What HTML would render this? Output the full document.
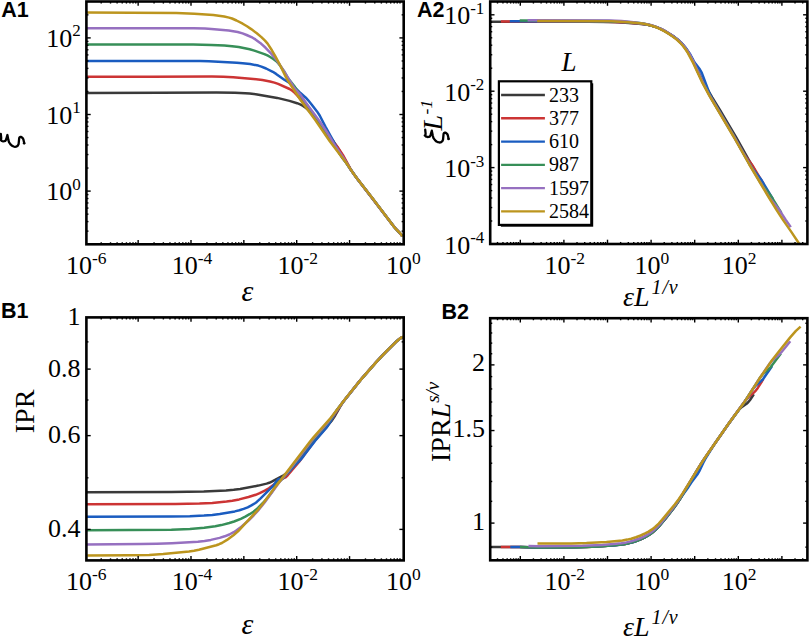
<!DOCTYPE html>
<html><head><meta charset="utf-8"><style>
html,body{margin:0;padding:0;background:#fff;}
body{width:809px;height:636px;overflow:hidden;}
svg{display:block;}
</style></head><body>
<svg width="809" height="636" viewBox="0 0 809 636">
<rect width="809" height="636" fill="#fff"/>
<path d="M86.4,92.9 159.5,92.8 216.5,92.5 234.9,92.8 245.2,93.2 249.7,93.5 257.2,94.4 277.2,97.9 289.5,100.9 297.1,103.2 300.7,104.6 303.1,105.9 306.0,108.0 308.1,109.8 311.0,112.9 315.9,118.8 325.0,131.0 332.7,140.3 338.5,148.9 350.0,168.5 354.5,175.0 393.5,226.1 395.5,228.5 399.6,232.8 402.4,236.3" fill="none" stroke="#3a3a3a" stroke-width="2.50" stroke-linejoin="round"/>
<path d="M86.4,76.7 150.0,76.8 211.9,76.6 223.3,76.8 233.2,77.3 253.4,78.9 262.4,80.1 270.0,81.5 274.4,82.6 278.1,83.9 289.6,89.0 292.2,90.6 293.5,91.7 297.4,95.6 304.0,103.1 312.1,113.2 317.2,120.2 328.9,137.0 331.1,139.8 335.2,144.0 337.2,146.5 343.0,155.2 351.0,169.9 355.5,176.4 393.0,225.4 396.0,229.0 399.0,232.1 402.4,236.3" fill="none" stroke="#cc3434" stroke-width="2.50" stroke-linejoin="round"/>
<path d="M86.4,61.0 200.0,61.0 208.9,61.2 236.8,62.7 242.6,63.2 250.2,64.1 258.3,65.6 261.4,66.6 266.1,68.5 272.8,71.8 276.1,73.9 284.3,79.7 288.8,82.4 291.0,84.0 299.3,91.9 305.8,97.7 308.2,100.3 311.8,104.7 317.0,111.4 319.7,115.5 325.4,126.6 333.0,140.4 338.5,151.7 342.0,157.4 346.0,162.6 352.5,172.2 357.0,178.4 372.0,197.8 392.5,224.8 396.0,229.0 399.5,232.7 402.4,236.3" fill="none" stroke="#1a5cc0" stroke-width="2.50" stroke-linejoin="round"/>
<path d="M86.4,44.4 193.1,44.6 211.4,44.9 224.4,45.5 232.1,46.2 238.7,47.1 249.7,49.3 254.3,50.6 264.4,54.1 267.9,55.7 270.2,57.0 273.3,59.0 276.7,61.6 278.2,63.1 279.8,65.1 284.0,71.2 287.5,77.4 295.0,87.1 304.5,101.4 319.0,121.8 326.5,132.9 340.0,154.3 347.0,164.0 353.5,173.6 358.5,180.4 372.0,197.8 393.5,226.1 395.5,228.5 399.6,232.8 402.4,236.3" fill="none" stroke="#378f58" stroke-width="2.50" stroke-linejoin="round"/>
<path d="M86.4,28.2 193.6,28.3 205.0,28.5 211.4,28.9 228.7,30.6 237.7,32.0 242.5,33.4 246.6,35.0 252.6,37.7 255.4,39.4 260.2,42.9 265.6,47.8 271.2,53.6 276.5,60.0 284.0,71.1 294.2,87.8 295.9,90.0 299.3,93.4 300.6,94.9 305.0,101.5 317.5,118.4 323.5,127.0 327.0,132.2 335.5,146.3 343.0,157.2 350.0,168.5 353.0,172.9 358.5,180.4 372.0,197.8 392.5,224.8 396.0,229.0 399.5,232.7 402.4,236.3" fill="none" stroke="#9670c0" stroke-width="2.50" stroke-linejoin="round"/>
<path d="M86.4,12.6 176.4,13.0 194.4,13.7 213.3,15.0 224.2,16.5 229.1,17.6 232.0,18.5 236.5,20.5 242.7,23.7 247.0,26.3 251.2,29.1 256.8,33.3 261.4,37.1 265.0,40.6 267.6,43.6 271.9,50.3 275.4,56.4 279.2,63.5 285.8,76.9 287.7,80.4 300.9,100.5 315.1,119.8 329.8,141.3 346.1,162.8 352.3,171.9 357.0,178.4 372.3,198.1 393.4,226.0 395.3,228.3 399.5,232.6 402.4,236.3" fill="none" stroke="#bc951e" stroke-width="2.50" stroke-linejoin="round"/>
<path d="M490.2,21.7 588.2,21.8 608.2,22.0 618.2,22.3 636.2,23.4 646.2,24.5 650.2,25.3 656.2,27.1 660.2,28.6 664.2,30.7 672.2,35.6 678.2,40.1 682.2,44.0 686.2,49.0 688.2,51.9 692.2,59.0 702.2,79.7 706.2,87.0 712.2,97.4 720.2,110.4 736.2,137.4 748.2,158.8 754.5,169.6" fill="none" stroke="#3a3a3a" stroke-width="2.50" stroke-linejoin="round"/>
<path d="M500.9,21.5 602.9,21.7 614.9,22.0 628.9,22.7 642.9,23.9 646.9,24.5 650.9,25.5 654.9,26.6 658.9,28.1 662.9,30.0 666.9,32.2 672.9,36.1 678.9,40.9 682.9,45.1 686.9,50.5 688.9,53.6 692.9,61.2 702.9,82.6 710.9,97.5 734.9,137.9 742.9,152.1 746.9,158.1 752.9,166.1 763.7,184.1" fill="none" stroke="#cc3434" stroke-width="2.50" stroke-linejoin="round"/>
<path d="M509.8,21.3 607.8,21.6 621.8,22.1 637.8,23.3 643.8,24.0 647.8,24.7 653.8,26.3 657.8,27.6 663.8,30.4 669.8,34.0 673.8,36.6 679.8,41.3 681.8,43.2 685.8,47.9 689.8,53.7 693.8,61.1 695.8,64.1 699.8,69.3 701.8,72.9 709.8,94.1 711.8,98.4 733.8,135.9 749.8,164.5 751.8,167.7 753.8,170.4 759.8,177.8 761.8,180.6 773.1,199.5" fill="none" stroke="#1a5cc0" stroke-width="2.50" stroke-linejoin="round"/>
<path d="M519.7,20.6 607.7,20.9 621.7,21.4 633.7,22.4 639.7,23.1 645.7,24.1 649.7,25.0 655.7,26.9 659.7,28.4 663.7,30.4 669.7,34.0 673.7,36.7 677.7,39.8 681.7,43.7 683.7,46.1 687.7,51.7 689.7,55.1 693.7,62.8 701.7,80.2 703.7,84.2 711.7,99.0 733.7,136.0 747.7,160.8 759.7,181.2 761.7,184.3 763.7,187.0 769.7,194.3 771.7,197.2 781.4,212.8" fill="none" stroke="#378f58" stroke-width="2.50" stroke-linejoin="round"/>
<path d="M527.6,20.3 609.6,20.6 621.6,21.1 633.6,22.2 645.6,23.9 651.6,25.3 655.6,26.6 661.6,29.1 665.6,31.2 671.6,35.0 675.6,37.9 679.6,41.2 683.6,45.5 687.6,50.9 689.6,54.2 693.6,61.9 703.6,84.1 709.6,95.5 733.6,136.0 749.6,164.3 769.6,197.9 779.6,210.4 785.6,219.7 790.8,227.1" fill="none" stroke="#9670c0" stroke-width="2.50" stroke-linejoin="round"/>
<path d="M537.2,21.0 611.2,21.3 628.2,22.2 642.1,23.6 646.0,24.3 650.9,25.5 655.6,27.0 659.3,28.6 663.8,30.9 668.1,33.4 673.0,36.8 677.0,39.8 679.9,42.5 682.6,45.5 685.6,49.5 687.8,52.8 693.4,63.4 701.8,81.6 709.3,95.7 733.8,137.0 749.0,164.0 767.4,195.0 776.8,210.3 783.3,220.4 791.3,231.9 799.2,243.8" fill="none" stroke="#bc951e" stroke-width="2.50" stroke-linejoin="round"/>
<path d="M86.4,492.3 171.4,492.0 203.8,491.4 226.0,490.4 233.7,489.8 240.1,489.0 258.3,485.6 266.6,483.6 269.2,482.8 271.8,481.6 283.1,475.5 287.0,473.1 288.8,471.7 290.0,470.1 293.5,466.4 302.0,455.9 314.0,440.5 328.0,425.1 331.5,421.0 334.5,416.5 340.5,406.2 344.0,400.7 360.5,380.0 376.0,362.3 382.5,355.4 396.5,341.4 399.1,339.2 402.2,337.1" fill="none" stroke="#3a3a3a" stroke-width="2.50" stroke-linejoin="round"/>
<path d="M86.4,504.3 175.5,503.9 199.5,503.6 212.3,502.9 226.5,501.5 232.3,500.7 239.2,499.4 248.5,497.0 255.7,494.8 259.7,493.2 264.8,490.7 268.9,488.3 274.0,484.5 281.8,479.3 283.8,478.0 285.6,477.3 287.5,475.5 299.0,461.9 314.5,441.0 322.5,431.6 326.5,426.6 331.5,419.6 339.0,407.9 343.0,402.0 360.0,380.6 375.5,362.9 382.5,355.4 396.0,341.9 399.5,338.9 402.2,337.1" fill="none" stroke="#cc3434" stroke-width="2.50" stroke-linejoin="round"/>
<path d="M86.4,516.8 171.4,516.5 189.8,516.2 204.0,515.6 212.3,514.9 219.8,514.0 234.8,511.4 239.4,510.3 243.6,508.9 247.7,507.3 251.4,505.4 255.0,503.2 256.8,501.9 260.1,498.8 273.4,485.6 276.7,481.0 278.0,479.5 278.7,479.1 279.4,479.0 281.4,479.2 282.6,478.7 285.0,475.7 290.0,470.8 294.0,466.1 300.0,460.4 303.5,456.1 315.0,440.9 326.5,427.7 330.0,422.3 335.5,412.3 337.5,409.2 345.0,399.4 360.0,380.6 375.5,362.9 382.0,355.9 395.5,342.3 399.0,339.3 402.2,337.1" fill="none" stroke="#1a5cc0" stroke-width="2.50" stroke-linejoin="round"/>
<path d="M86.4,530.3 171.4,529.7 189.9,528.9 204.2,527.8 215.3,526.3 221.3,525.1 229.3,523.0 234.1,521.5 240.8,518.8 245.3,516.6 249.6,514.2 253.5,511.7 258.0,508.0 263.4,502.5 267.8,497.4 271.7,492.3 277.0,484.0 278.6,482.2 281.0,480.1 290.0,469.6 312.0,440.9 328.0,422.7 331.5,418.0 338.0,408.5 341.5,403.9 362.0,378.3 376.5,361.8 383.5,354.4 396.5,341.4 399.1,339.2 402.2,337.1" fill="none" stroke="#378f58" stroke-width="2.50" stroke-linejoin="round"/>
<path d="M86.4,544.6 140.6,544.1 157.0,543.8 171.9,543.2 197.9,541.8 204.5,541.0 210.8,539.9 219.6,537.9 224.7,536.3 229.3,534.5 233.7,532.2 235.9,530.8 240.3,527.6 248.5,520.5 252.3,516.8 257.8,511.0 264.6,502.4 278.6,483.2 289.5,469.7 310.5,442.2 314.5,437.3 328.5,421.6 341.5,403.9 360.0,380.6 375.5,362.9 382.5,355.4 396.0,341.9 399.5,338.9 402.2,337.1" fill="none" stroke="#9670c0" stroke-width="2.50" stroke-linejoin="round"/>
<path d="M87.2,555.4 129.2,555.3 149.2,554.9 163.2,554.0 189.0,551.4 194.0,550.7 198.9,549.7 216.3,545.2 219.1,544.2 221.9,543.0 227.0,539.9 233.4,535.2 238.0,531.3 258.4,509.3 264.0,502.3 274.6,487.7 281.5,479.1 309.9,441.7 313.7,437.1 329.7,419.2 345.6,398.6 358.1,383.0 362.6,377.6 377.1,361.1 386.1,351.7 396.8,341.2 399.8,338.6 403.2,336.5" fill="none" stroke="#bc951e" stroke-width="2.50" stroke-linejoin="round"/>
<path d="M490.2,547.1 520.2,547.0 538.2,547.5 570.2,547.3 587.2,546.9 605.2,546.0 620.2,544.7 625.2,543.9 629.2,543.1 634.2,541.7 639.2,539.9 643.2,538.2 647.2,536.0 650.2,534.1 653.2,531.9 658.2,527.2 665.2,518.9 674.2,507.4 680.2,498.7 695.2,473.3 702.2,462.0 708.2,453.1 727.2,425.7 734.2,416.0 739.2,409.4 741.2,407.6 746.2,404.1 748.2,402.3 750.2,399.7 753.8,394.2" fill="none" stroke="#3a3a3a" stroke-width="2.50" stroke-linejoin="round"/>
<path d="M500.8,547.1 519.8,547.0 537.8,547.5 573.8,547.3 591.8,546.8 610.8,545.5 622.8,544.3 627.8,543.4 631.8,542.4 635.8,541.2 640.8,539.3 644.8,537.4 648.8,535.0 653.8,531.4 658.8,526.5 665.8,518.2 674.8,506.6 677.8,502.4 680.8,497.7 699.8,465.8 708.8,452.2 728.8,423.5 745.8,400.1 748.8,396.8 753.8,392.6 755.8,390.6 757.8,387.9 763.3,379.2" fill="none" stroke="#cc3434" stroke-width="2.50" stroke-linejoin="round"/>
<path d="M510.3,547.0 520.3,547.0 537.3,547.5 576.3,547.3 595.3,546.6 615.3,545.2 621.3,544.5 626.3,543.7 630.3,542.8 634.3,541.7 639.3,539.9 643.3,538.1 647.3,536.0 650.3,534.0 655.3,530.1 659.3,526.0 666.3,517.5 675.3,505.9 682.3,495.5 688.3,487.2 691.3,482.5 697.3,474.6 699.3,471.2 703.3,462.7 705.3,458.9 714.3,444.3 729.3,422.8 744.3,402.2 753.3,388.4 755.3,386.1 761.3,380.9 763.3,378.8 772.1,366.0" fill="none" stroke="#1a5cc0" stroke-width="2.50" stroke-linejoin="round"/>
<path d="M519.9,547.0 537.9,547.5 578.9,547.2 598.9,546.4 618.9,544.8 623.9,544.2 627.9,543.4 631.9,542.4 636.9,540.8 640.9,539.2 644.9,537.3 648.9,535.0 651.9,532.9 655.9,529.5 659.9,525.3 667.9,515.5 675.9,505.1 680.9,497.6 696.9,470.5 703.9,459.4 727.9,424.8 744.9,401.4 759.9,377.8 762.9,374.1 768.9,368.8 770.9,366.8 780.9,353.6" fill="none" stroke="#378f58" stroke-width="2.50" stroke-linejoin="round"/>
<path d="M528.4,545.9 538.4,546.2 582.4,545.8 602.4,544.9 613.4,544.0 621.4,543.2 626.4,542.4 630.4,541.5 634.4,540.3 639.4,538.5 643.4,536.8 647.4,534.7 650.4,532.8 653.4,530.6 657.4,526.9 661.4,522.5 671.4,510.0 677.4,501.9 680.4,497.3 699.4,466.4 704.4,458.6 728.4,424.0 745.4,400.6 758.4,380.1 769.4,363.9 772.4,360.4 779.4,354.2 781.4,352.2 790.3,341.2" fill="none" stroke="#9670c0" stroke-width="2.50" stroke-linejoin="round"/>
<path d="M537.5,543.6 571.5,543.4 586.5,543.1 606.5,542.0 622.4,540.5 627.3,539.6 631.2,538.7 635.9,537.2 640.6,535.5 645.1,533.4 648.6,531.6 652.0,529.4 655.1,527.0 658.7,523.6 662.0,519.9 674.7,504.5 678.9,498.9 682.8,493.1 700.2,465.1 705.1,457.5 728.5,423.8 745.0,401.2 759.0,379.3 771.4,361.1 778.1,352.4 790.0,337.6 795.9,330.9 800.6,326.6" fill="none" stroke="#bc951e" stroke-width="2.50" stroke-linejoin="round"/>
<rect x="86.40" y="1.50" width="317.30" height="242.80" fill="none" stroke="#000" stroke-width="2.60"/>
<rect x="490.20" y="1.50" width="317.20" height="242.50" fill="none" stroke="#000" stroke-width="2.60"/>
<rect x="86.40" y="317.40" width="317.30" height="243.00" fill="none" stroke="#000" stroke-width="2.60"/>
<rect x="490.20" y="318.20" width="317.20" height="242.10" fill="none" stroke="#000" stroke-width="2.60"/>
<line x1="101.21" y1="244.30" x2="101.21" y2="242.25" stroke="#000" stroke-width="1.40"/>
<line x1="101.21" y1="1.50" x2="101.21" y2="3.55" stroke="#000" stroke-width="1.40"/>
<line x1="110.52" y1="244.30" x2="110.52" y2="242.25" stroke="#000" stroke-width="1.40"/>
<line x1="110.52" y1="1.50" x2="110.52" y2="3.55" stroke="#000" stroke-width="1.40"/>
<line x1="117.12" y1="244.30" x2="117.12" y2="242.25" stroke="#000" stroke-width="1.40"/>
<line x1="117.12" y1="1.50" x2="117.12" y2="3.55" stroke="#000" stroke-width="1.40"/>
<line x1="122.24" y1="244.30" x2="122.24" y2="242.25" stroke="#000" stroke-width="1.40"/>
<line x1="122.24" y1="1.50" x2="122.24" y2="3.55" stroke="#000" stroke-width="1.40"/>
<line x1="126.43" y1="244.30" x2="126.43" y2="242.25" stroke="#000" stroke-width="1.40"/>
<line x1="126.43" y1="1.50" x2="126.43" y2="3.55" stroke="#000" stroke-width="1.40"/>
<line x1="129.96" y1="244.30" x2="129.96" y2="242.25" stroke="#000" stroke-width="1.40"/>
<line x1="129.96" y1="1.50" x2="129.96" y2="3.55" stroke="#000" stroke-width="1.40"/>
<line x1="133.03" y1="244.30" x2="133.03" y2="242.25" stroke="#000" stroke-width="1.40"/>
<line x1="133.03" y1="1.50" x2="133.03" y2="3.55" stroke="#000" stroke-width="1.40"/>
<line x1="135.73" y1="244.30" x2="135.73" y2="242.25" stroke="#000" stroke-width="1.40"/>
<line x1="135.73" y1="1.50" x2="135.73" y2="3.55" stroke="#000" stroke-width="1.40"/>
<line x1="138.15" y1="244.30" x2="138.15" y2="240.00" stroke="#000" stroke-width="1.40"/>
<line x1="138.15" y1="1.50" x2="138.15" y2="5.80" stroke="#000" stroke-width="1.40"/>
<line x1="154.06" y1="244.30" x2="154.06" y2="242.25" stroke="#000" stroke-width="1.40"/>
<line x1="154.06" y1="1.50" x2="154.06" y2="3.55" stroke="#000" stroke-width="1.40"/>
<line x1="163.37" y1="244.30" x2="163.37" y2="242.25" stroke="#000" stroke-width="1.40"/>
<line x1="163.37" y1="1.50" x2="163.37" y2="3.55" stroke="#000" stroke-width="1.40"/>
<line x1="169.97" y1="244.30" x2="169.97" y2="242.25" stroke="#000" stroke-width="1.40"/>
<line x1="169.97" y1="1.50" x2="169.97" y2="3.55" stroke="#000" stroke-width="1.40"/>
<line x1="175.09" y1="244.30" x2="175.09" y2="242.25" stroke="#000" stroke-width="1.40"/>
<line x1="175.09" y1="1.50" x2="175.09" y2="3.55" stroke="#000" stroke-width="1.40"/>
<line x1="179.28" y1="244.30" x2="179.28" y2="242.25" stroke="#000" stroke-width="1.40"/>
<line x1="179.28" y1="1.50" x2="179.28" y2="3.55" stroke="#000" stroke-width="1.40"/>
<line x1="182.81" y1="244.30" x2="182.81" y2="242.25" stroke="#000" stroke-width="1.40"/>
<line x1="182.81" y1="1.50" x2="182.81" y2="3.55" stroke="#000" stroke-width="1.40"/>
<line x1="185.88" y1="244.30" x2="185.88" y2="242.25" stroke="#000" stroke-width="1.40"/>
<line x1="185.88" y1="1.50" x2="185.88" y2="3.55" stroke="#000" stroke-width="1.40"/>
<line x1="188.58" y1="244.30" x2="188.58" y2="242.25" stroke="#000" stroke-width="1.40"/>
<line x1="188.58" y1="1.50" x2="188.58" y2="3.55" stroke="#000" stroke-width="1.40"/>
<line x1="191.00" y1="244.30" x2="191.00" y2="240.00" stroke="#000" stroke-width="1.40"/>
<line x1="191.00" y1="1.50" x2="191.00" y2="5.80" stroke="#000" stroke-width="1.40"/>
<line x1="206.91" y1="244.30" x2="206.91" y2="242.25" stroke="#000" stroke-width="1.40"/>
<line x1="206.91" y1="1.50" x2="206.91" y2="3.55" stroke="#000" stroke-width="1.40"/>
<line x1="216.22" y1="244.30" x2="216.22" y2="242.25" stroke="#000" stroke-width="1.40"/>
<line x1="216.22" y1="1.50" x2="216.22" y2="3.55" stroke="#000" stroke-width="1.40"/>
<line x1="222.82" y1="244.30" x2="222.82" y2="242.25" stroke="#000" stroke-width="1.40"/>
<line x1="222.82" y1="1.50" x2="222.82" y2="3.55" stroke="#000" stroke-width="1.40"/>
<line x1="227.94" y1="244.30" x2="227.94" y2="242.25" stroke="#000" stroke-width="1.40"/>
<line x1="227.94" y1="1.50" x2="227.94" y2="3.55" stroke="#000" stroke-width="1.40"/>
<line x1="232.13" y1="244.30" x2="232.13" y2="242.25" stroke="#000" stroke-width="1.40"/>
<line x1="232.13" y1="1.50" x2="232.13" y2="3.55" stroke="#000" stroke-width="1.40"/>
<line x1="235.66" y1="244.30" x2="235.66" y2="242.25" stroke="#000" stroke-width="1.40"/>
<line x1="235.66" y1="1.50" x2="235.66" y2="3.55" stroke="#000" stroke-width="1.40"/>
<line x1="238.73" y1="244.30" x2="238.73" y2="242.25" stroke="#000" stroke-width="1.40"/>
<line x1="238.73" y1="1.50" x2="238.73" y2="3.55" stroke="#000" stroke-width="1.40"/>
<line x1="241.43" y1="244.30" x2="241.43" y2="242.25" stroke="#000" stroke-width="1.40"/>
<line x1="241.43" y1="1.50" x2="241.43" y2="3.55" stroke="#000" stroke-width="1.40"/>
<line x1="243.85" y1="244.30" x2="243.85" y2="240.00" stroke="#000" stroke-width="1.40"/>
<line x1="243.85" y1="1.50" x2="243.85" y2="5.80" stroke="#000" stroke-width="1.40"/>
<line x1="259.76" y1="244.30" x2="259.76" y2="242.25" stroke="#000" stroke-width="1.40"/>
<line x1="259.76" y1="1.50" x2="259.76" y2="3.55" stroke="#000" stroke-width="1.40"/>
<line x1="269.07" y1="244.30" x2="269.07" y2="242.25" stroke="#000" stroke-width="1.40"/>
<line x1="269.07" y1="1.50" x2="269.07" y2="3.55" stroke="#000" stroke-width="1.40"/>
<line x1="275.67" y1="244.30" x2="275.67" y2="242.25" stroke="#000" stroke-width="1.40"/>
<line x1="275.67" y1="1.50" x2="275.67" y2="3.55" stroke="#000" stroke-width="1.40"/>
<line x1="280.79" y1="244.30" x2="280.79" y2="242.25" stroke="#000" stroke-width="1.40"/>
<line x1="280.79" y1="1.50" x2="280.79" y2="3.55" stroke="#000" stroke-width="1.40"/>
<line x1="284.98" y1="244.30" x2="284.98" y2="242.25" stroke="#000" stroke-width="1.40"/>
<line x1="284.98" y1="1.50" x2="284.98" y2="3.55" stroke="#000" stroke-width="1.40"/>
<line x1="288.51" y1="244.30" x2="288.51" y2="242.25" stroke="#000" stroke-width="1.40"/>
<line x1="288.51" y1="1.50" x2="288.51" y2="3.55" stroke="#000" stroke-width="1.40"/>
<line x1="291.58" y1="244.30" x2="291.58" y2="242.25" stroke="#000" stroke-width="1.40"/>
<line x1="291.58" y1="1.50" x2="291.58" y2="3.55" stroke="#000" stroke-width="1.40"/>
<line x1="294.28" y1="244.30" x2="294.28" y2="242.25" stroke="#000" stroke-width="1.40"/>
<line x1="294.28" y1="1.50" x2="294.28" y2="3.55" stroke="#000" stroke-width="1.40"/>
<line x1="296.70" y1="244.30" x2="296.70" y2="240.00" stroke="#000" stroke-width="1.40"/>
<line x1="296.70" y1="1.50" x2="296.70" y2="5.80" stroke="#000" stroke-width="1.40"/>
<line x1="312.61" y1="244.30" x2="312.61" y2="242.25" stroke="#000" stroke-width="1.40"/>
<line x1="312.61" y1="1.50" x2="312.61" y2="3.55" stroke="#000" stroke-width="1.40"/>
<line x1="321.92" y1="244.30" x2="321.92" y2="242.25" stroke="#000" stroke-width="1.40"/>
<line x1="321.92" y1="1.50" x2="321.92" y2="3.55" stroke="#000" stroke-width="1.40"/>
<line x1="328.52" y1="244.30" x2="328.52" y2="242.25" stroke="#000" stroke-width="1.40"/>
<line x1="328.52" y1="1.50" x2="328.52" y2="3.55" stroke="#000" stroke-width="1.40"/>
<line x1="333.64" y1="244.30" x2="333.64" y2="242.25" stroke="#000" stroke-width="1.40"/>
<line x1="333.64" y1="1.50" x2="333.64" y2="3.55" stroke="#000" stroke-width="1.40"/>
<line x1="337.83" y1="244.30" x2="337.83" y2="242.25" stroke="#000" stroke-width="1.40"/>
<line x1="337.83" y1="1.50" x2="337.83" y2="3.55" stroke="#000" stroke-width="1.40"/>
<line x1="341.36" y1="244.30" x2="341.36" y2="242.25" stroke="#000" stroke-width="1.40"/>
<line x1="341.36" y1="1.50" x2="341.36" y2="3.55" stroke="#000" stroke-width="1.40"/>
<line x1="344.43" y1="244.30" x2="344.43" y2="242.25" stroke="#000" stroke-width="1.40"/>
<line x1="344.43" y1="1.50" x2="344.43" y2="3.55" stroke="#000" stroke-width="1.40"/>
<line x1="347.13" y1="244.30" x2="347.13" y2="242.25" stroke="#000" stroke-width="1.40"/>
<line x1="347.13" y1="1.50" x2="347.13" y2="3.55" stroke="#000" stroke-width="1.40"/>
<line x1="349.55" y1="244.30" x2="349.55" y2="240.00" stroke="#000" stroke-width="1.40"/>
<line x1="349.55" y1="1.50" x2="349.55" y2="5.80" stroke="#000" stroke-width="1.40"/>
<line x1="365.46" y1="244.30" x2="365.46" y2="242.25" stroke="#000" stroke-width="1.40"/>
<line x1="365.46" y1="1.50" x2="365.46" y2="3.55" stroke="#000" stroke-width="1.40"/>
<line x1="374.77" y1="244.30" x2="374.77" y2="242.25" stroke="#000" stroke-width="1.40"/>
<line x1="374.77" y1="1.50" x2="374.77" y2="3.55" stroke="#000" stroke-width="1.40"/>
<line x1="381.37" y1="244.30" x2="381.37" y2="242.25" stroke="#000" stroke-width="1.40"/>
<line x1="381.37" y1="1.50" x2="381.37" y2="3.55" stroke="#000" stroke-width="1.40"/>
<line x1="386.49" y1="244.30" x2="386.49" y2="242.25" stroke="#000" stroke-width="1.40"/>
<line x1="386.49" y1="1.50" x2="386.49" y2="3.55" stroke="#000" stroke-width="1.40"/>
<line x1="390.68" y1="244.30" x2="390.68" y2="242.25" stroke="#000" stroke-width="1.40"/>
<line x1="390.68" y1="1.50" x2="390.68" y2="3.55" stroke="#000" stroke-width="1.40"/>
<line x1="394.21" y1="244.30" x2="394.21" y2="242.25" stroke="#000" stroke-width="1.40"/>
<line x1="394.21" y1="1.50" x2="394.21" y2="3.55" stroke="#000" stroke-width="1.40"/>
<line x1="397.28" y1="244.30" x2="397.28" y2="242.25" stroke="#000" stroke-width="1.40"/>
<line x1="397.28" y1="1.50" x2="397.28" y2="3.55" stroke="#000" stroke-width="1.40"/>
<line x1="399.98" y1="244.30" x2="399.98" y2="242.25" stroke="#000" stroke-width="1.40"/>
<line x1="399.98" y1="1.50" x2="399.98" y2="3.55" stroke="#000" stroke-width="1.40"/>
<line x1="101.21" y1="560.40" x2="101.21" y2="558.35" stroke="#000" stroke-width="1.40"/>
<line x1="101.21" y1="317.40" x2="101.21" y2="319.45" stroke="#000" stroke-width="1.40"/>
<line x1="110.52" y1="560.40" x2="110.52" y2="558.35" stroke="#000" stroke-width="1.40"/>
<line x1="110.52" y1="317.40" x2="110.52" y2="319.45" stroke="#000" stroke-width="1.40"/>
<line x1="117.12" y1="560.40" x2="117.12" y2="558.35" stroke="#000" stroke-width="1.40"/>
<line x1="117.12" y1="317.40" x2="117.12" y2="319.45" stroke="#000" stroke-width="1.40"/>
<line x1="122.24" y1="560.40" x2="122.24" y2="558.35" stroke="#000" stroke-width="1.40"/>
<line x1="122.24" y1="317.40" x2="122.24" y2="319.45" stroke="#000" stroke-width="1.40"/>
<line x1="126.43" y1="560.40" x2="126.43" y2="558.35" stroke="#000" stroke-width="1.40"/>
<line x1="126.43" y1="317.40" x2="126.43" y2="319.45" stroke="#000" stroke-width="1.40"/>
<line x1="129.96" y1="560.40" x2="129.96" y2="558.35" stroke="#000" stroke-width="1.40"/>
<line x1="129.96" y1="317.40" x2="129.96" y2="319.45" stroke="#000" stroke-width="1.40"/>
<line x1="133.03" y1="560.40" x2="133.03" y2="558.35" stroke="#000" stroke-width="1.40"/>
<line x1="133.03" y1="317.40" x2="133.03" y2="319.45" stroke="#000" stroke-width="1.40"/>
<line x1="135.73" y1="560.40" x2="135.73" y2="558.35" stroke="#000" stroke-width="1.40"/>
<line x1="135.73" y1="317.40" x2="135.73" y2="319.45" stroke="#000" stroke-width="1.40"/>
<line x1="138.15" y1="560.40" x2="138.15" y2="556.10" stroke="#000" stroke-width="1.40"/>
<line x1="138.15" y1="317.40" x2="138.15" y2="321.70" stroke="#000" stroke-width="1.40"/>
<line x1="154.06" y1="560.40" x2="154.06" y2="558.35" stroke="#000" stroke-width="1.40"/>
<line x1="154.06" y1="317.40" x2="154.06" y2="319.45" stroke="#000" stroke-width="1.40"/>
<line x1="163.37" y1="560.40" x2="163.37" y2="558.35" stroke="#000" stroke-width="1.40"/>
<line x1="163.37" y1="317.40" x2="163.37" y2="319.45" stroke="#000" stroke-width="1.40"/>
<line x1="169.97" y1="560.40" x2="169.97" y2="558.35" stroke="#000" stroke-width="1.40"/>
<line x1="169.97" y1="317.40" x2="169.97" y2="319.45" stroke="#000" stroke-width="1.40"/>
<line x1="175.09" y1="560.40" x2="175.09" y2="558.35" stroke="#000" stroke-width="1.40"/>
<line x1="175.09" y1="317.40" x2="175.09" y2="319.45" stroke="#000" stroke-width="1.40"/>
<line x1="179.28" y1="560.40" x2="179.28" y2="558.35" stroke="#000" stroke-width="1.40"/>
<line x1="179.28" y1="317.40" x2="179.28" y2="319.45" stroke="#000" stroke-width="1.40"/>
<line x1="182.81" y1="560.40" x2="182.81" y2="558.35" stroke="#000" stroke-width="1.40"/>
<line x1="182.81" y1="317.40" x2="182.81" y2="319.45" stroke="#000" stroke-width="1.40"/>
<line x1="185.88" y1="560.40" x2="185.88" y2="558.35" stroke="#000" stroke-width="1.40"/>
<line x1="185.88" y1="317.40" x2="185.88" y2="319.45" stroke="#000" stroke-width="1.40"/>
<line x1="188.58" y1="560.40" x2="188.58" y2="558.35" stroke="#000" stroke-width="1.40"/>
<line x1="188.58" y1="317.40" x2="188.58" y2="319.45" stroke="#000" stroke-width="1.40"/>
<line x1="191.00" y1="560.40" x2="191.00" y2="556.10" stroke="#000" stroke-width="1.40"/>
<line x1="191.00" y1="317.40" x2="191.00" y2="321.70" stroke="#000" stroke-width="1.40"/>
<line x1="206.91" y1="560.40" x2="206.91" y2="558.35" stroke="#000" stroke-width="1.40"/>
<line x1="206.91" y1="317.40" x2="206.91" y2="319.45" stroke="#000" stroke-width="1.40"/>
<line x1="216.22" y1="560.40" x2="216.22" y2="558.35" stroke="#000" stroke-width="1.40"/>
<line x1="216.22" y1="317.40" x2="216.22" y2="319.45" stroke="#000" stroke-width="1.40"/>
<line x1="222.82" y1="560.40" x2="222.82" y2="558.35" stroke="#000" stroke-width="1.40"/>
<line x1="222.82" y1="317.40" x2="222.82" y2="319.45" stroke="#000" stroke-width="1.40"/>
<line x1="227.94" y1="560.40" x2="227.94" y2="558.35" stroke="#000" stroke-width="1.40"/>
<line x1="227.94" y1="317.40" x2="227.94" y2="319.45" stroke="#000" stroke-width="1.40"/>
<line x1="232.13" y1="560.40" x2="232.13" y2="558.35" stroke="#000" stroke-width="1.40"/>
<line x1="232.13" y1="317.40" x2="232.13" y2="319.45" stroke="#000" stroke-width="1.40"/>
<line x1="235.66" y1="560.40" x2="235.66" y2="558.35" stroke="#000" stroke-width="1.40"/>
<line x1="235.66" y1="317.40" x2="235.66" y2="319.45" stroke="#000" stroke-width="1.40"/>
<line x1="238.73" y1="560.40" x2="238.73" y2="558.35" stroke="#000" stroke-width="1.40"/>
<line x1="238.73" y1="317.40" x2="238.73" y2="319.45" stroke="#000" stroke-width="1.40"/>
<line x1="241.43" y1="560.40" x2="241.43" y2="558.35" stroke="#000" stroke-width="1.40"/>
<line x1="241.43" y1="317.40" x2="241.43" y2="319.45" stroke="#000" stroke-width="1.40"/>
<line x1="243.85" y1="560.40" x2="243.85" y2="556.10" stroke="#000" stroke-width="1.40"/>
<line x1="243.85" y1="317.40" x2="243.85" y2="321.70" stroke="#000" stroke-width="1.40"/>
<line x1="259.76" y1="560.40" x2="259.76" y2="558.35" stroke="#000" stroke-width="1.40"/>
<line x1="259.76" y1="317.40" x2="259.76" y2="319.45" stroke="#000" stroke-width="1.40"/>
<line x1="269.07" y1="560.40" x2="269.07" y2="558.35" stroke="#000" stroke-width="1.40"/>
<line x1="269.07" y1="317.40" x2="269.07" y2="319.45" stroke="#000" stroke-width="1.40"/>
<line x1="275.67" y1="560.40" x2="275.67" y2="558.35" stroke="#000" stroke-width="1.40"/>
<line x1="275.67" y1="317.40" x2="275.67" y2="319.45" stroke="#000" stroke-width="1.40"/>
<line x1="280.79" y1="560.40" x2="280.79" y2="558.35" stroke="#000" stroke-width="1.40"/>
<line x1="280.79" y1="317.40" x2="280.79" y2="319.45" stroke="#000" stroke-width="1.40"/>
<line x1="284.98" y1="560.40" x2="284.98" y2="558.35" stroke="#000" stroke-width="1.40"/>
<line x1="284.98" y1="317.40" x2="284.98" y2="319.45" stroke="#000" stroke-width="1.40"/>
<line x1="288.51" y1="560.40" x2="288.51" y2="558.35" stroke="#000" stroke-width="1.40"/>
<line x1="288.51" y1="317.40" x2="288.51" y2="319.45" stroke="#000" stroke-width="1.40"/>
<line x1="291.58" y1="560.40" x2="291.58" y2="558.35" stroke="#000" stroke-width="1.40"/>
<line x1="291.58" y1="317.40" x2="291.58" y2="319.45" stroke="#000" stroke-width="1.40"/>
<line x1="294.28" y1="560.40" x2="294.28" y2="558.35" stroke="#000" stroke-width="1.40"/>
<line x1="294.28" y1="317.40" x2="294.28" y2="319.45" stroke="#000" stroke-width="1.40"/>
<line x1="296.70" y1="560.40" x2="296.70" y2="556.10" stroke="#000" stroke-width="1.40"/>
<line x1="296.70" y1="317.40" x2="296.70" y2="321.70" stroke="#000" stroke-width="1.40"/>
<line x1="312.61" y1="560.40" x2="312.61" y2="558.35" stroke="#000" stroke-width="1.40"/>
<line x1="312.61" y1="317.40" x2="312.61" y2="319.45" stroke="#000" stroke-width="1.40"/>
<line x1="321.92" y1="560.40" x2="321.92" y2="558.35" stroke="#000" stroke-width="1.40"/>
<line x1="321.92" y1="317.40" x2="321.92" y2="319.45" stroke="#000" stroke-width="1.40"/>
<line x1="328.52" y1="560.40" x2="328.52" y2="558.35" stroke="#000" stroke-width="1.40"/>
<line x1="328.52" y1="317.40" x2="328.52" y2="319.45" stroke="#000" stroke-width="1.40"/>
<line x1="333.64" y1="560.40" x2="333.64" y2="558.35" stroke="#000" stroke-width="1.40"/>
<line x1="333.64" y1="317.40" x2="333.64" y2="319.45" stroke="#000" stroke-width="1.40"/>
<line x1="337.83" y1="560.40" x2="337.83" y2="558.35" stroke="#000" stroke-width="1.40"/>
<line x1="337.83" y1="317.40" x2="337.83" y2="319.45" stroke="#000" stroke-width="1.40"/>
<line x1="341.36" y1="560.40" x2="341.36" y2="558.35" stroke="#000" stroke-width="1.40"/>
<line x1="341.36" y1="317.40" x2="341.36" y2="319.45" stroke="#000" stroke-width="1.40"/>
<line x1="344.43" y1="560.40" x2="344.43" y2="558.35" stroke="#000" stroke-width="1.40"/>
<line x1="344.43" y1="317.40" x2="344.43" y2="319.45" stroke="#000" stroke-width="1.40"/>
<line x1="347.13" y1="560.40" x2="347.13" y2="558.35" stroke="#000" stroke-width="1.40"/>
<line x1="347.13" y1="317.40" x2="347.13" y2="319.45" stroke="#000" stroke-width="1.40"/>
<line x1="349.55" y1="560.40" x2="349.55" y2="556.10" stroke="#000" stroke-width="1.40"/>
<line x1="349.55" y1="317.40" x2="349.55" y2="321.70" stroke="#000" stroke-width="1.40"/>
<line x1="365.46" y1="560.40" x2="365.46" y2="558.35" stroke="#000" stroke-width="1.40"/>
<line x1="365.46" y1="317.40" x2="365.46" y2="319.45" stroke="#000" stroke-width="1.40"/>
<line x1="374.77" y1="560.40" x2="374.77" y2="558.35" stroke="#000" stroke-width="1.40"/>
<line x1="374.77" y1="317.40" x2="374.77" y2="319.45" stroke="#000" stroke-width="1.40"/>
<line x1="381.37" y1="560.40" x2="381.37" y2="558.35" stroke="#000" stroke-width="1.40"/>
<line x1="381.37" y1="317.40" x2="381.37" y2="319.45" stroke="#000" stroke-width="1.40"/>
<line x1="386.49" y1="560.40" x2="386.49" y2="558.35" stroke="#000" stroke-width="1.40"/>
<line x1="386.49" y1="317.40" x2="386.49" y2="319.45" stroke="#000" stroke-width="1.40"/>
<line x1="390.68" y1="560.40" x2="390.68" y2="558.35" stroke="#000" stroke-width="1.40"/>
<line x1="390.68" y1="317.40" x2="390.68" y2="319.45" stroke="#000" stroke-width="1.40"/>
<line x1="394.21" y1="560.40" x2="394.21" y2="558.35" stroke="#000" stroke-width="1.40"/>
<line x1="394.21" y1="317.40" x2="394.21" y2="319.45" stroke="#000" stroke-width="1.40"/>
<line x1="397.28" y1="560.40" x2="397.28" y2="558.35" stroke="#000" stroke-width="1.40"/>
<line x1="397.28" y1="317.40" x2="397.28" y2="319.45" stroke="#000" stroke-width="1.40"/>
<line x1="399.98" y1="560.40" x2="399.98" y2="558.35" stroke="#000" stroke-width="1.40"/>
<line x1="399.98" y1="317.40" x2="399.98" y2="319.45" stroke="#000" stroke-width="1.40"/>
<line x1="497.50" y1="244.00" x2="497.50" y2="241.95" stroke="#000" stroke-width="1.40"/>
<line x1="497.50" y1="1.50" x2="497.50" y2="3.55" stroke="#000" stroke-width="1.40"/>
<line x1="502.95" y1="244.00" x2="502.95" y2="241.95" stroke="#000" stroke-width="1.40"/>
<line x1="502.95" y1="1.50" x2="502.95" y2="3.55" stroke="#000" stroke-width="1.40"/>
<line x1="507.18" y1="244.00" x2="507.18" y2="241.95" stroke="#000" stroke-width="1.40"/>
<line x1="507.18" y1="1.50" x2="507.18" y2="3.55" stroke="#000" stroke-width="1.40"/>
<line x1="510.63" y1="244.00" x2="510.63" y2="241.95" stroke="#000" stroke-width="1.40"/>
<line x1="510.63" y1="1.50" x2="510.63" y2="3.55" stroke="#000" stroke-width="1.40"/>
<line x1="513.55" y1="244.00" x2="513.55" y2="241.95" stroke="#000" stroke-width="1.40"/>
<line x1="513.55" y1="1.50" x2="513.55" y2="3.55" stroke="#000" stroke-width="1.40"/>
<line x1="516.07" y1="244.00" x2="516.07" y2="241.95" stroke="#000" stroke-width="1.40"/>
<line x1="516.07" y1="1.50" x2="516.07" y2="3.55" stroke="#000" stroke-width="1.40"/>
<line x1="518.30" y1="244.00" x2="518.30" y2="241.95" stroke="#000" stroke-width="1.40"/>
<line x1="518.30" y1="1.50" x2="518.30" y2="3.55" stroke="#000" stroke-width="1.40"/>
<line x1="520.30" y1="244.00" x2="520.30" y2="239.70" stroke="#000" stroke-width="1.40"/>
<line x1="520.30" y1="1.50" x2="520.30" y2="5.80" stroke="#000" stroke-width="1.40"/>
<line x1="533.42" y1="244.00" x2="533.42" y2="241.95" stroke="#000" stroke-width="1.40"/>
<line x1="533.42" y1="1.50" x2="533.42" y2="3.55" stroke="#000" stroke-width="1.40"/>
<line x1="541.10" y1="244.00" x2="541.10" y2="241.95" stroke="#000" stroke-width="1.40"/>
<line x1="541.10" y1="1.50" x2="541.10" y2="3.55" stroke="#000" stroke-width="1.40"/>
<line x1="546.55" y1="244.00" x2="546.55" y2="241.95" stroke="#000" stroke-width="1.40"/>
<line x1="546.55" y1="1.50" x2="546.55" y2="3.55" stroke="#000" stroke-width="1.40"/>
<line x1="550.78" y1="244.00" x2="550.78" y2="241.95" stroke="#000" stroke-width="1.40"/>
<line x1="550.78" y1="1.50" x2="550.78" y2="3.55" stroke="#000" stroke-width="1.40"/>
<line x1="554.23" y1="244.00" x2="554.23" y2="241.95" stroke="#000" stroke-width="1.40"/>
<line x1="554.23" y1="1.50" x2="554.23" y2="3.55" stroke="#000" stroke-width="1.40"/>
<line x1="557.15" y1="244.00" x2="557.15" y2="241.95" stroke="#000" stroke-width="1.40"/>
<line x1="557.15" y1="1.50" x2="557.15" y2="3.55" stroke="#000" stroke-width="1.40"/>
<line x1="559.67" y1="244.00" x2="559.67" y2="241.95" stroke="#000" stroke-width="1.40"/>
<line x1="559.67" y1="1.50" x2="559.67" y2="3.55" stroke="#000" stroke-width="1.40"/>
<line x1="561.90" y1="244.00" x2="561.90" y2="241.95" stroke="#000" stroke-width="1.40"/>
<line x1="561.90" y1="1.50" x2="561.90" y2="3.55" stroke="#000" stroke-width="1.40"/>
<line x1="563.90" y1="244.00" x2="563.90" y2="239.70" stroke="#000" stroke-width="1.40"/>
<line x1="563.90" y1="1.50" x2="563.90" y2="5.80" stroke="#000" stroke-width="1.40"/>
<line x1="577.02" y1="244.00" x2="577.02" y2="241.95" stroke="#000" stroke-width="1.40"/>
<line x1="577.02" y1="1.50" x2="577.02" y2="3.55" stroke="#000" stroke-width="1.40"/>
<line x1="584.70" y1="244.00" x2="584.70" y2="241.95" stroke="#000" stroke-width="1.40"/>
<line x1="584.70" y1="1.50" x2="584.70" y2="3.55" stroke="#000" stroke-width="1.40"/>
<line x1="590.15" y1="244.00" x2="590.15" y2="241.95" stroke="#000" stroke-width="1.40"/>
<line x1="590.15" y1="1.50" x2="590.15" y2="3.55" stroke="#000" stroke-width="1.40"/>
<line x1="594.38" y1="244.00" x2="594.38" y2="241.95" stroke="#000" stroke-width="1.40"/>
<line x1="594.38" y1="1.50" x2="594.38" y2="3.55" stroke="#000" stroke-width="1.40"/>
<line x1="597.83" y1="244.00" x2="597.83" y2="241.95" stroke="#000" stroke-width="1.40"/>
<line x1="597.83" y1="1.50" x2="597.83" y2="3.55" stroke="#000" stroke-width="1.40"/>
<line x1="600.75" y1="244.00" x2="600.75" y2="241.95" stroke="#000" stroke-width="1.40"/>
<line x1="600.75" y1="1.50" x2="600.75" y2="3.55" stroke="#000" stroke-width="1.40"/>
<line x1="603.27" y1="244.00" x2="603.27" y2="241.95" stroke="#000" stroke-width="1.40"/>
<line x1="603.27" y1="1.50" x2="603.27" y2="3.55" stroke="#000" stroke-width="1.40"/>
<line x1="605.50" y1="244.00" x2="605.50" y2="241.95" stroke="#000" stroke-width="1.40"/>
<line x1="605.50" y1="1.50" x2="605.50" y2="3.55" stroke="#000" stroke-width="1.40"/>
<line x1="607.50" y1="244.00" x2="607.50" y2="239.70" stroke="#000" stroke-width="1.40"/>
<line x1="607.50" y1="1.50" x2="607.50" y2="5.80" stroke="#000" stroke-width="1.40"/>
<line x1="620.62" y1="244.00" x2="620.62" y2="241.95" stroke="#000" stroke-width="1.40"/>
<line x1="620.62" y1="1.50" x2="620.62" y2="3.55" stroke="#000" stroke-width="1.40"/>
<line x1="628.30" y1="244.00" x2="628.30" y2="241.95" stroke="#000" stroke-width="1.40"/>
<line x1="628.30" y1="1.50" x2="628.30" y2="3.55" stroke="#000" stroke-width="1.40"/>
<line x1="633.75" y1="244.00" x2="633.75" y2="241.95" stroke="#000" stroke-width="1.40"/>
<line x1="633.75" y1="1.50" x2="633.75" y2="3.55" stroke="#000" stroke-width="1.40"/>
<line x1="637.98" y1="244.00" x2="637.98" y2="241.95" stroke="#000" stroke-width="1.40"/>
<line x1="637.98" y1="1.50" x2="637.98" y2="3.55" stroke="#000" stroke-width="1.40"/>
<line x1="641.43" y1="244.00" x2="641.43" y2="241.95" stroke="#000" stroke-width="1.40"/>
<line x1="641.43" y1="1.50" x2="641.43" y2="3.55" stroke="#000" stroke-width="1.40"/>
<line x1="644.35" y1="244.00" x2="644.35" y2="241.95" stroke="#000" stroke-width="1.40"/>
<line x1="644.35" y1="1.50" x2="644.35" y2="3.55" stroke="#000" stroke-width="1.40"/>
<line x1="646.87" y1="244.00" x2="646.87" y2="241.95" stroke="#000" stroke-width="1.40"/>
<line x1="646.87" y1="1.50" x2="646.87" y2="3.55" stroke="#000" stroke-width="1.40"/>
<line x1="649.10" y1="244.00" x2="649.10" y2="241.95" stroke="#000" stroke-width="1.40"/>
<line x1="649.10" y1="1.50" x2="649.10" y2="3.55" stroke="#000" stroke-width="1.40"/>
<line x1="651.10" y1="244.00" x2="651.10" y2="239.70" stroke="#000" stroke-width="1.40"/>
<line x1="651.10" y1="1.50" x2="651.10" y2="5.80" stroke="#000" stroke-width="1.40"/>
<line x1="664.22" y1="244.00" x2="664.22" y2="241.95" stroke="#000" stroke-width="1.40"/>
<line x1="664.22" y1="1.50" x2="664.22" y2="3.55" stroke="#000" stroke-width="1.40"/>
<line x1="671.90" y1="244.00" x2="671.90" y2="241.95" stroke="#000" stroke-width="1.40"/>
<line x1="671.90" y1="1.50" x2="671.90" y2="3.55" stroke="#000" stroke-width="1.40"/>
<line x1="677.35" y1="244.00" x2="677.35" y2="241.95" stroke="#000" stroke-width="1.40"/>
<line x1="677.35" y1="1.50" x2="677.35" y2="3.55" stroke="#000" stroke-width="1.40"/>
<line x1="681.58" y1="244.00" x2="681.58" y2="241.95" stroke="#000" stroke-width="1.40"/>
<line x1="681.58" y1="1.50" x2="681.58" y2="3.55" stroke="#000" stroke-width="1.40"/>
<line x1="685.03" y1="244.00" x2="685.03" y2="241.95" stroke="#000" stroke-width="1.40"/>
<line x1="685.03" y1="1.50" x2="685.03" y2="3.55" stroke="#000" stroke-width="1.40"/>
<line x1="687.95" y1="244.00" x2="687.95" y2="241.95" stroke="#000" stroke-width="1.40"/>
<line x1="687.95" y1="1.50" x2="687.95" y2="3.55" stroke="#000" stroke-width="1.40"/>
<line x1="690.47" y1="244.00" x2="690.47" y2="241.95" stroke="#000" stroke-width="1.40"/>
<line x1="690.47" y1="1.50" x2="690.47" y2="3.55" stroke="#000" stroke-width="1.40"/>
<line x1="692.70" y1="244.00" x2="692.70" y2="241.95" stroke="#000" stroke-width="1.40"/>
<line x1="692.70" y1="1.50" x2="692.70" y2="3.55" stroke="#000" stroke-width="1.40"/>
<line x1="694.70" y1="244.00" x2="694.70" y2="239.70" stroke="#000" stroke-width="1.40"/>
<line x1="694.70" y1="1.50" x2="694.70" y2="5.80" stroke="#000" stroke-width="1.40"/>
<line x1="707.82" y1="244.00" x2="707.82" y2="241.95" stroke="#000" stroke-width="1.40"/>
<line x1="707.82" y1="1.50" x2="707.82" y2="3.55" stroke="#000" stroke-width="1.40"/>
<line x1="715.50" y1="244.00" x2="715.50" y2="241.95" stroke="#000" stroke-width="1.40"/>
<line x1="715.50" y1="1.50" x2="715.50" y2="3.55" stroke="#000" stroke-width="1.40"/>
<line x1="720.95" y1="244.00" x2="720.95" y2="241.95" stroke="#000" stroke-width="1.40"/>
<line x1="720.95" y1="1.50" x2="720.95" y2="3.55" stroke="#000" stroke-width="1.40"/>
<line x1="725.18" y1="244.00" x2="725.18" y2="241.95" stroke="#000" stroke-width="1.40"/>
<line x1="725.18" y1="1.50" x2="725.18" y2="3.55" stroke="#000" stroke-width="1.40"/>
<line x1="728.63" y1="244.00" x2="728.63" y2="241.95" stroke="#000" stroke-width="1.40"/>
<line x1="728.63" y1="1.50" x2="728.63" y2="3.55" stroke="#000" stroke-width="1.40"/>
<line x1="731.55" y1="244.00" x2="731.55" y2="241.95" stroke="#000" stroke-width="1.40"/>
<line x1="731.55" y1="1.50" x2="731.55" y2="3.55" stroke="#000" stroke-width="1.40"/>
<line x1="734.07" y1="244.00" x2="734.07" y2="241.95" stroke="#000" stroke-width="1.40"/>
<line x1="734.07" y1="1.50" x2="734.07" y2="3.55" stroke="#000" stroke-width="1.40"/>
<line x1="736.30" y1="244.00" x2="736.30" y2="241.95" stroke="#000" stroke-width="1.40"/>
<line x1="736.30" y1="1.50" x2="736.30" y2="3.55" stroke="#000" stroke-width="1.40"/>
<line x1="738.30" y1="244.00" x2="738.30" y2="239.70" stroke="#000" stroke-width="1.40"/>
<line x1="738.30" y1="1.50" x2="738.30" y2="5.80" stroke="#000" stroke-width="1.40"/>
<line x1="751.42" y1="244.00" x2="751.42" y2="241.95" stroke="#000" stroke-width="1.40"/>
<line x1="751.42" y1="1.50" x2="751.42" y2="3.55" stroke="#000" stroke-width="1.40"/>
<line x1="759.10" y1="244.00" x2="759.10" y2="241.95" stroke="#000" stroke-width="1.40"/>
<line x1="759.10" y1="1.50" x2="759.10" y2="3.55" stroke="#000" stroke-width="1.40"/>
<line x1="764.55" y1="244.00" x2="764.55" y2="241.95" stroke="#000" stroke-width="1.40"/>
<line x1="764.55" y1="1.50" x2="764.55" y2="3.55" stroke="#000" stroke-width="1.40"/>
<line x1="768.78" y1="244.00" x2="768.78" y2="241.95" stroke="#000" stroke-width="1.40"/>
<line x1="768.78" y1="1.50" x2="768.78" y2="3.55" stroke="#000" stroke-width="1.40"/>
<line x1="772.23" y1="244.00" x2="772.23" y2="241.95" stroke="#000" stroke-width="1.40"/>
<line x1="772.23" y1="1.50" x2="772.23" y2="3.55" stroke="#000" stroke-width="1.40"/>
<line x1="775.15" y1="244.00" x2="775.15" y2="241.95" stroke="#000" stroke-width="1.40"/>
<line x1="775.15" y1="1.50" x2="775.15" y2="3.55" stroke="#000" stroke-width="1.40"/>
<line x1="777.67" y1="244.00" x2="777.67" y2="241.95" stroke="#000" stroke-width="1.40"/>
<line x1="777.67" y1="1.50" x2="777.67" y2="3.55" stroke="#000" stroke-width="1.40"/>
<line x1="779.90" y1="244.00" x2="779.90" y2="241.95" stroke="#000" stroke-width="1.40"/>
<line x1="779.90" y1="1.50" x2="779.90" y2="3.55" stroke="#000" stroke-width="1.40"/>
<line x1="781.90" y1="244.00" x2="781.90" y2="239.70" stroke="#000" stroke-width="1.40"/>
<line x1="781.90" y1="1.50" x2="781.90" y2="5.80" stroke="#000" stroke-width="1.40"/>
<line x1="795.02" y1="244.00" x2="795.02" y2="241.95" stroke="#000" stroke-width="1.40"/>
<line x1="795.02" y1="1.50" x2="795.02" y2="3.55" stroke="#000" stroke-width="1.40"/>
<line x1="802.70" y1="244.00" x2="802.70" y2="241.95" stroke="#000" stroke-width="1.40"/>
<line x1="802.70" y1="1.50" x2="802.70" y2="3.55" stroke="#000" stroke-width="1.40"/>
<line x1="497.50" y1="560.30" x2="497.50" y2="558.25" stroke="#000" stroke-width="1.40"/>
<line x1="497.50" y1="318.20" x2="497.50" y2="320.25" stroke="#000" stroke-width="1.40"/>
<line x1="502.95" y1="560.30" x2="502.95" y2="558.25" stroke="#000" stroke-width="1.40"/>
<line x1="502.95" y1="318.20" x2="502.95" y2="320.25" stroke="#000" stroke-width="1.40"/>
<line x1="507.18" y1="560.30" x2="507.18" y2="558.25" stroke="#000" stroke-width="1.40"/>
<line x1="507.18" y1="318.20" x2="507.18" y2="320.25" stroke="#000" stroke-width="1.40"/>
<line x1="510.63" y1="560.30" x2="510.63" y2="558.25" stroke="#000" stroke-width="1.40"/>
<line x1="510.63" y1="318.20" x2="510.63" y2="320.25" stroke="#000" stroke-width="1.40"/>
<line x1="513.55" y1="560.30" x2="513.55" y2="558.25" stroke="#000" stroke-width="1.40"/>
<line x1="513.55" y1="318.20" x2="513.55" y2="320.25" stroke="#000" stroke-width="1.40"/>
<line x1="516.07" y1="560.30" x2="516.07" y2="558.25" stroke="#000" stroke-width="1.40"/>
<line x1="516.07" y1="318.20" x2="516.07" y2="320.25" stroke="#000" stroke-width="1.40"/>
<line x1="518.30" y1="560.30" x2="518.30" y2="558.25" stroke="#000" stroke-width="1.40"/>
<line x1="518.30" y1="318.20" x2="518.30" y2="320.25" stroke="#000" stroke-width="1.40"/>
<line x1="520.30" y1="560.30" x2="520.30" y2="556.00" stroke="#000" stroke-width="1.40"/>
<line x1="520.30" y1="318.20" x2="520.30" y2="322.50" stroke="#000" stroke-width="1.40"/>
<line x1="533.42" y1="560.30" x2="533.42" y2="558.25" stroke="#000" stroke-width="1.40"/>
<line x1="533.42" y1="318.20" x2="533.42" y2="320.25" stroke="#000" stroke-width="1.40"/>
<line x1="541.10" y1="560.30" x2="541.10" y2="558.25" stroke="#000" stroke-width="1.40"/>
<line x1="541.10" y1="318.20" x2="541.10" y2="320.25" stroke="#000" stroke-width="1.40"/>
<line x1="546.55" y1="560.30" x2="546.55" y2="558.25" stroke="#000" stroke-width="1.40"/>
<line x1="546.55" y1="318.20" x2="546.55" y2="320.25" stroke="#000" stroke-width="1.40"/>
<line x1="550.78" y1="560.30" x2="550.78" y2="558.25" stroke="#000" stroke-width="1.40"/>
<line x1="550.78" y1="318.20" x2="550.78" y2="320.25" stroke="#000" stroke-width="1.40"/>
<line x1="554.23" y1="560.30" x2="554.23" y2="558.25" stroke="#000" stroke-width="1.40"/>
<line x1="554.23" y1="318.20" x2="554.23" y2="320.25" stroke="#000" stroke-width="1.40"/>
<line x1="557.15" y1="560.30" x2="557.15" y2="558.25" stroke="#000" stroke-width="1.40"/>
<line x1="557.15" y1="318.20" x2="557.15" y2="320.25" stroke="#000" stroke-width="1.40"/>
<line x1="559.67" y1="560.30" x2="559.67" y2="558.25" stroke="#000" stroke-width="1.40"/>
<line x1="559.67" y1="318.20" x2="559.67" y2="320.25" stroke="#000" stroke-width="1.40"/>
<line x1="561.90" y1="560.30" x2="561.90" y2="558.25" stroke="#000" stroke-width="1.40"/>
<line x1="561.90" y1="318.20" x2="561.90" y2="320.25" stroke="#000" stroke-width="1.40"/>
<line x1="563.90" y1="560.30" x2="563.90" y2="556.00" stroke="#000" stroke-width="1.40"/>
<line x1="563.90" y1="318.20" x2="563.90" y2="322.50" stroke="#000" stroke-width="1.40"/>
<line x1="577.02" y1="560.30" x2="577.02" y2="558.25" stroke="#000" stroke-width="1.40"/>
<line x1="577.02" y1="318.20" x2="577.02" y2="320.25" stroke="#000" stroke-width="1.40"/>
<line x1="584.70" y1="560.30" x2="584.70" y2="558.25" stroke="#000" stroke-width="1.40"/>
<line x1="584.70" y1="318.20" x2="584.70" y2="320.25" stroke="#000" stroke-width="1.40"/>
<line x1="590.15" y1="560.30" x2="590.15" y2="558.25" stroke="#000" stroke-width="1.40"/>
<line x1="590.15" y1="318.20" x2="590.15" y2="320.25" stroke="#000" stroke-width="1.40"/>
<line x1="594.38" y1="560.30" x2="594.38" y2="558.25" stroke="#000" stroke-width="1.40"/>
<line x1="594.38" y1="318.20" x2="594.38" y2="320.25" stroke="#000" stroke-width="1.40"/>
<line x1="597.83" y1="560.30" x2="597.83" y2="558.25" stroke="#000" stroke-width="1.40"/>
<line x1="597.83" y1="318.20" x2="597.83" y2="320.25" stroke="#000" stroke-width="1.40"/>
<line x1="600.75" y1="560.30" x2="600.75" y2="558.25" stroke="#000" stroke-width="1.40"/>
<line x1="600.75" y1="318.20" x2="600.75" y2="320.25" stroke="#000" stroke-width="1.40"/>
<line x1="603.27" y1="560.30" x2="603.27" y2="558.25" stroke="#000" stroke-width="1.40"/>
<line x1="603.27" y1="318.20" x2="603.27" y2="320.25" stroke="#000" stroke-width="1.40"/>
<line x1="605.50" y1="560.30" x2="605.50" y2="558.25" stroke="#000" stroke-width="1.40"/>
<line x1="605.50" y1="318.20" x2="605.50" y2="320.25" stroke="#000" stroke-width="1.40"/>
<line x1="607.50" y1="560.30" x2="607.50" y2="556.00" stroke="#000" stroke-width="1.40"/>
<line x1="607.50" y1="318.20" x2="607.50" y2="322.50" stroke="#000" stroke-width="1.40"/>
<line x1="620.62" y1="560.30" x2="620.62" y2="558.25" stroke="#000" stroke-width="1.40"/>
<line x1="620.62" y1="318.20" x2="620.62" y2="320.25" stroke="#000" stroke-width="1.40"/>
<line x1="628.30" y1="560.30" x2="628.30" y2="558.25" stroke="#000" stroke-width="1.40"/>
<line x1="628.30" y1="318.20" x2="628.30" y2="320.25" stroke="#000" stroke-width="1.40"/>
<line x1="633.75" y1="560.30" x2="633.75" y2="558.25" stroke="#000" stroke-width="1.40"/>
<line x1="633.75" y1="318.20" x2="633.75" y2="320.25" stroke="#000" stroke-width="1.40"/>
<line x1="637.98" y1="560.30" x2="637.98" y2="558.25" stroke="#000" stroke-width="1.40"/>
<line x1="637.98" y1="318.20" x2="637.98" y2="320.25" stroke="#000" stroke-width="1.40"/>
<line x1="641.43" y1="560.30" x2="641.43" y2="558.25" stroke="#000" stroke-width="1.40"/>
<line x1="641.43" y1="318.20" x2="641.43" y2="320.25" stroke="#000" stroke-width="1.40"/>
<line x1="644.35" y1="560.30" x2="644.35" y2="558.25" stroke="#000" stroke-width="1.40"/>
<line x1="644.35" y1="318.20" x2="644.35" y2="320.25" stroke="#000" stroke-width="1.40"/>
<line x1="646.87" y1="560.30" x2="646.87" y2="558.25" stroke="#000" stroke-width="1.40"/>
<line x1="646.87" y1="318.20" x2="646.87" y2="320.25" stroke="#000" stroke-width="1.40"/>
<line x1="649.10" y1="560.30" x2="649.10" y2="558.25" stroke="#000" stroke-width="1.40"/>
<line x1="649.10" y1="318.20" x2="649.10" y2="320.25" stroke="#000" stroke-width="1.40"/>
<line x1="651.10" y1="560.30" x2="651.10" y2="556.00" stroke="#000" stroke-width="1.40"/>
<line x1="651.10" y1="318.20" x2="651.10" y2="322.50" stroke="#000" stroke-width="1.40"/>
<line x1="664.22" y1="560.30" x2="664.22" y2="558.25" stroke="#000" stroke-width="1.40"/>
<line x1="664.22" y1="318.20" x2="664.22" y2="320.25" stroke="#000" stroke-width="1.40"/>
<line x1="671.90" y1="560.30" x2="671.90" y2="558.25" stroke="#000" stroke-width="1.40"/>
<line x1="671.90" y1="318.20" x2="671.90" y2="320.25" stroke="#000" stroke-width="1.40"/>
<line x1="677.35" y1="560.30" x2="677.35" y2="558.25" stroke="#000" stroke-width="1.40"/>
<line x1="677.35" y1="318.20" x2="677.35" y2="320.25" stroke="#000" stroke-width="1.40"/>
<line x1="681.58" y1="560.30" x2="681.58" y2="558.25" stroke="#000" stroke-width="1.40"/>
<line x1="681.58" y1="318.20" x2="681.58" y2="320.25" stroke="#000" stroke-width="1.40"/>
<line x1="685.03" y1="560.30" x2="685.03" y2="558.25" stroke="#000" stroke-width="1.40"/>
<line x1="685.03" y1="318.20" x2="685.03" y2="320.25" stroke="#000" stroke-width="1.40"/>
<line x1="687.95" y1="560.30" x2="687.95" y2="558.25" stroke="#000" stroke-width="1.40"/>
<line x1="687.95" y1="318.20" x2="687.95" y2="320.25" stroke="#000" stroke-width="1.40"/>
<line x1="690.47" y1="560.30" x2="690.47" y2="558.25" stroke="#000" stroke-width="1.40"/>
<line x1="690.47" y1="318.20" x2="690.47" y2="320.25" stroke="#000" stroke-width="1.40"/>
<line x1="692.70" y1="560.30" x2="692.70" y2="558.25" stroke="#000" stroke-width="1.40"/>
<line x1="692.70" y1="318.20" x2="692.70" y2="320.25" stroke="#000" stroke-width="1.40"/>
<line x1="694.70" y1="560.30" x2="694.70" y2="556.00" stroke="#000" stroke-width="1.40"/>
<line x1="694.70" y1="318.20" x2="694.70" y2="322.50" stroke="#000" stroke-width="1.40"/>
<line x1="707.82" y1="560.30" x2="707.82" y2="558.25" stroke="#000" stroke-width="1.40"/>
<line x1="707.82" y1="318.20" x2="707.82" y2="320.25" stroke="#000" stroke-width="1.40"/>
<line x1="715.50" y1="560.30" x2="715.50" y2="558.25" stroke="#000" stroke-width="1.40"/>
<line x1="715.50" y1="318.20" x2="715.50" y2="320.25" stroke="#000" stroke-width="1.40"/>
<line x1="720.95" y1="560.30" x2="720.95" y2="558.25" stroke="#000" stroke-width="1.40"/>
<line x1="720.95" y1="318.20" x2="720.95" y2="320.25" stroke="#000" stroke-width="1.40"/>
<line x1="725.18" y1="560.30" x2="725.18" y2="558.25" stroke="#000" stroke-width="1.40"/>
<line x1="725.18" y1="318.20" x2="725.18" y2="320.25" stroke="#000" stroke-width="1.40"/>
<line x1="728.63" y1="560.30" x2="728.63" y2="558.25" stroke="#000" stroke-width="1.40"/>
<line x1="728.63" y1="318.20" x2="728.63" y2="320.25" stroke="#000" stroke-width="1.40"/>
<line x1="731.55" y1="560.30" x2="731.55" y2="558.25" stroke="#000" stroke-width="1.40"/>
<line x1="731.55" y1="318.20" x2="731.55" y2="320.25" stroke="#000" stroke-width="1.40"/>
<line x1="734.07" y1="560.30" x2="734.07" y2="558.25" stroke="#000" stroke-width="1.40"/>
<line x1="734.07" y1="318.20" x2="734.07" y2="320.25" stroke="#000" stroke-width="1.40"/>
<line x1="736.30" y1="560.30" x2="736.30" y2="558.25" stroke="#000" stroke-width="1.40"/>
<line x1="736.30" y1="318.20" x2="736.30" y2="320.25" stroke="#000" stroke-width="1.40"/>
<line x1="738.30" y1="560.30" x2="738.30" y2="556.00" stroke="#000" stroke-width="1.40"/>
<line x1="738.30" y1="318.20" x2="738.30" y2="322.50" stroke="#000" stroke-width="1.40"/>
<line x1="751.42" y1="560.30" x2="751.42" y2="558.25" stroke="#000" stroke-width="1.40"/>
<line x1="751.42" y1="318.20" x2="751.42" y2="320.25" stroke="#000" stroke-width="1.40"/>
<line x1="759.10" y1="560.30" x2="759.10" y2="558.25" stroke="#000" stroke-width="1.40"/>
<line x1="759.10" y1="318.20" x2="759.10" y2="320.25" stroke="#000" stroke-width="1.40"/>
<line x1="764.55" y1="560.30" x2="764.55" y2="558.25" stroke="#000" stroke-width="1.40"/>
<line x1="764.55" y1="318.20" x2="764.55" y2="320.25" stroke="#000" stroke-width="1.40"/>
<line x1="768.78" y1="560.30" x2="768.78" y2="558.25" stroke="#000" stroke-width="1.40"/>
<line x1="768.78" y1="318.20" x2="768.78" y2="320.25" stroke="#000" stroke-width="1.40"/>
<line x1="772.23" y1="560.30" x2="772.23" y2="558.25" stroke="#000" stroke-width="1.40"/>
<line x1="772.23" y1="318.20" x2="772.23" y2="320.25" stroke="#000" stroke-width="1.40"/>
<line x1="775.15" y1="560.30" x2="775.15" y2="558.25" stroke="#000" stroke-width="1.40"/>
<line x1="775.15" y1="318.20" x2="775.15" y2="320.25" stroke="#000" stroke-width="1.40"/>
<line x1="777.67" y1="560.30" x2="777.67" y2="558.25" stroke="#000" stroke-width="1.40"/>
<line x1="777.67" y1="318.20" x2="777.67" y2="320.25" stroke="#000" stroke-width="1.40"/>
<line x1="779.90" y1="560.30" x2="779.90" y2="558.25" stroke="#000" stroke-width="1.40"/>
<line x1="779.90" y1="318.20" x2="779.90" y2="320.25" stroke="#000" stroke-width="1.40"/>
<line x1="781.90" y1="560.30" x2="781.90" y2="556.00" stroke="#000" stroke-width="1.40"/>
<line x1="781.90" y1="318.20" x2="781.90" y2="322.50" stroke="#000" stroke-width="1.40"/>
<line x1="795.02" y1="560.30" x2="795.02" y2="558.25" stroke="#000" stroke-width="1.40"/>
<line x1="795.02" y1="318.20" x2="795.02" y2="320.25" stroke="#000" stroke-width="1.40"/>
<line x1="802.70" y1="560.30" x2="802.70" y2="558.25" stroke="#000" stroke-width="1.40"/>
<line x1="802.70" y1="318.20" x2="802.70" y2="320.25" stroke="#000" stroke-width="1.40"/>
<line x1="86.40" y1="191.10" x2="90.70" y2="191.10" stroke="#000" stroke-width="1.40"/>
<line x1="403.70" y1="191.10" x2="399.40" y2="191.10" stroke="#000" stroke-width="1.40"/>
<line x1="86.40" y1="114.50" x2="90.70" y2="114.50" stroke="#000" stroke-width="1.40"/>
<line x1="403.70" y1="114.50" x2="399.40" y2="114.50" stroke="#000" stroke-width="1.40"/>
<line x1="86.40" y1="37.90" x2="90.70" y2="37.90" stroke="#000" stroke-width="1.40"/>
<line x1="403.70" y1="37.90" x2="399.40" y2="37.90" stroke="#000" stroke-width="1.40"/>
<line x1="86.40" y1="231.15" x2="88.45" y2="231.15" stroke="#000" stroke-width="1.40"/>
<line x1="403.70" y1="231.15" x2="401.65" y2="231.15" stroke="#000" stroke-width="1.40"/>
<line x1="86.40" y1="221.58" x2="88.45" y2="221.58" stroke="#000" stroke-width="1.40"/>
<line x1="403.70" y1="221.58" x2="401.65" y2="221.58" stroke="#000" stroke-width="1.40"/>
<line x1="86.40" y1="214.16" x2="88.45" y2="214.16" stroke="#000" stroke-width="1.40"/>
<line x1="403.70" y1="214.16" x2="401.65" y2="214.16" stroke="#000" stroke-width="1.40"/>
<line x1="86.40" y1="208.09" x2="88.45" y2="208.09" stroke="#000" stroke-width="1.40"/>
<line x1="403.70" y1="208.09" x2="401.65" y2="208.09" stroke="#000" stroke-width="1.40"/>
<line x1="86.40" y1="202.97" x2="88.45" y2="202.97" stroke="#000" stroke-width="1.40"/>
<line x1="403.70" y1="202.97" x2="401.65" y2="202.97" stroke="#000" stroke-width="1.40"/>
<line x1="86.40" y1="198.52" x2="88.45" y2="198.52" stroke="#000" stroke-width="1.40"/>
<line x1="403.70" y1="198.52" x2="401.65" y2="198.52" stroke="#000" stroke-width="1.40"/>
<line x1="86.40" y1="194.61" x2="88.45" y2="194.61" stroke="#000" stroke-width="1.40"/>
<line x1="403.70" y1="194.61" x2="401.65" y2="194.61" stroke="#000" stroke-width="1.40"/>
<line x1="86.40" y1="168.04" x2="88.45" y2="168.04" stroke="#000" stroke-width="1.40"/>
<line x1="403.70" y1="168.04" x2="401.65" y2="168.04" stroke="#000" stroke-width="1.40"/>
<line x1="86.40" y1="154.55" x2="88.45" y2="154.55" stroke="#000" stroke-width="1.40"/>
<line x1="403.70" y1="154.55" x2="401.65" y2="154.55" stroke="#000" stroke-width="1.40"/>
<line x1="86.40" y1="144.98" x2="88.45" y2="144.98" stroke="#000" stroke-width="1.40"/>
<line x1="403.70" y1="144.98" x2="401.65" y2="144.98" stroke="#000" stroke-width="1.40"/>
<line x1="86.40" y1="137.56" x2="88.45" y2="137.56" stroke="#000" stroke-width="1.40"/>
<line x1="403.70" y1="137.56" x2="401.65" y2="137.56" stroke="#000" stroke-width="1.40"/>
<line x1="86.40" y1="131.49" x2="88.45" y2="131.49" stroke="#000" stroke-width="1.40"/>
<line x1="403.70" y1="131.49" x2="401.65" y2="131.49" stroke="#000" stroke-width="1.40"/>
<line x1="86.40" y1="126.37" x2="88.45" y2="126.37" stroke="#000" stroke-width="1.40"/>
<line x1="403.70" y1="126.37" x2="401.65" y2="126.37" stroke="#000" stroke-width="1.40"/>
<line x1="86.40" y1="121.92" x2="88.45" y2="121.92" stroke="#000" stroke-width="1.40"/>
<line x1="403.70" y1="121.92" x2="401.65" y2="121.92" stroke="#000" stroke-width="1.40"/>
<line x1="86.40" y1="118.01" x2="88.45" y2="118.01" stroke="#000" stroke-width="1.40"/>
<line x1="403.70" y1="118.01" x2="401.65" y2="118.01" stroke="#000" stroke-width="1.40"/>
<line x1="86.40" y1="91.44" x2="88.45" y2="91.44" stroke="#000" stroke-width="1.40"/>
<line x1="403.70" y1="91.44" x2="401.65" y2="91.44" stroke="#000" stroke-width="1.40"/>
<line x1="86.40" y1="77.95" x2="88.45" y2="77.95" stroke="#000" stroke-width="1.40"/>
<line x1="403.70" y1="77.95" x2="401.65" y2="77.95" stroke="#000" stroke-width="1.40"/>
<line x1="86.40" y1="68.38" x2="88.45" y2="68.38" stroke="#000" stroke-width="1.40"/>
<line x1="403.70" y1="68.38" x2="401.65" y2="68.38" stroke="#000" stroke-width="1.40"/>
<line x1="86.40" y1="60.96" x2="88.45" y2="60.96" stroke="#000" stroke-width="1.40"/>
<line x1="403.70" y1="60.96" x2="401.65" y2="60.96" stroke="#000" stroke-width="1.40"/>
<line x1="86.40" y1="54.89" x2="88.45" y2="54.89" stroke="#000" stroke-width="1.40"/>
<line x1="403.70" y1="54.89" x2="401.65" y2="54.89" stroke="#000" stroke-width="1.40"/>
<line x1="86.40" y1="49.77" x2="88.45" y2="49.77" stroke="#000" stroke-width="1.40"/>
<line x1="403.70" y1="49.77" x2="401.65" y2="49.77" stroke="#000" stroke-width="1.40"/>
<line x1="86.40" y1="45.32" x2="88.45" y2="45.32" stroke="#000" stroke-width="1.40"/>
<line x1="403.70" y1="45.32" x2="401.65" y2="45.32" stroke="#000" stroke-width="1.40"/>
<line x1="86.40" y1="41.41" x2="88.45" y2="41.41" stroke="#000" stroke-width="1.40"/>
<line x1="403.70" y1="41.41" x2="401.65" y2="41.41" stroke="#000" stroke-width="1.40"/>
<line x1="86.40" y1="14.84" x2="88.45" y2="14.84" stroke="#000" stroke-width="1.40"/>
<line x1="403.70" y1="14.84" x2="401.65" y2="14.84" stroke="#000" stroke-width="1.40"/>
<line x1="490.20" y1="14.80" x2="494.50" y2="14.80" stroke="#000" stroke-width="1.40"/>
<line x1="807.40" y1="14.80" x2="803.10" y2="14.80" stroke="#000" stroke-width="1.40"/>
<line x1="490.20" y1="91.20" x2="494.50" y2="91.20" stroke="#000" stroke-width="1.40"/>
<line x1="807.40" y1="91.20" x2="803.10" y2="91.20" stroke="#000" stroke-width="1.40"/>
<line x1="490.20" y1="167.60" x2="494.50" y2="167.60" stroke="#000" stroke-width="1.40"/>
<line x1="807.40" y1="167.60" x2="803.10" y2="167.60" stroke="#000" stroke-width="1.40"/>
<line x1="490.20" y1="221.00" x2="492.25" y2="221.00" stroke="#000" stroke-width="1.40"/>
<line x1="807.40" y1="221.00" x2="805.35" y2="221.00" stroke="#000" stroke-width="1.40"/>
<line x1="490.20" y1="207.55" x2="492.25" y2="207.55" stroke="#000" stroke-width="1.40"/>
<line x1="807.40" y1="207.55" x2="805.35" y2="207.55" stroke="#000" stroke-width="1.40"/>
<line x1="490.20" y1="198.00" x2="492.25" y2="198.00" stroke="#000" stroke-width="1.40"/>
<line x1="807.40" y1="198.00" x2="805.35" y2="198.00" stroke="#000" stroke-width="1.40"/>
<line x1="490.20" y1="190.60" x2="492.25" y2="190.60" stroke="#000" stroke-width="1.40"/>
<line x1="807.40" y1="190.60" x2="805.35" y2="190.60" stroke="#000" stroke-width="1.40"/>
<line x1="490.20" y1="184.55" x2="492.25" y2="184.55" stroke="#000" stroke-width="1.40"/>
<line x1="807.40" y1="184.55" x2="805.35" y2="184.55" stroke="#000" stroke-width="1.40"/>
<line x1="490.20" y1="179.43" x2="492.25" y2="179.43" stroke="#000" stroke-width="1.40"/>
<line x1="807.40" y1="179.43" x2="805.35" y2="179.43" stroke="#000" stroke-width="1.40"/>
<line x1="490.20" y1="175.00" x2="492.25" y2="175.00" stroke="#000" stroke-width="1.40"/>
<line x1="807.40" y1="175.00" x2="805.35" y2="175.00" stroke="#000" stroke-width="1.40"/>
<line x1="490.20" y1="171.10" x2="492.25" y2="171.10" stroke="#000" stroke-width="1.40"/>
<line x1="807.40" y1="171.10" x2="805.35" y2="171.10" stroke="#000" stroke-width="1.40"/>
<line x1="490.20" y1="144.60" x2="492.25" y2="144.60" stroke="#000" stroke-width="1.40"/>
<line x1="807.40" y1="144.60" x2="805.35" y2="144.60" stroke="#000" stroke-width="1.40"/>
<line x1="490.20" y1="131.15" x2="492.25" y2="131.15" stroke="#000" stroke-width="1.40"/>
<line x1="807.40" y1="131.15" x2="805.35" y2="131.15" stroke="#000" stroke-width="1.40"/>
<line x1="490.20" y1="121.60" x2="492.25" y2="121.60" stroke="#000" stroke-width="1.40"/>
<line x1="807.40" y1="121.60" x2="805.35" y2="121.60" stroke="#000" stroke-width="1.40"/>
<line x1="490.20" y1="114.20" x2="492.25" y2="114.20" stroke="#000" stroke-width="1.40"/>
<line x1="807.40" y1="114.20" x2="805.35" y2="114.20" stroke="#000" stroke-width="1.40"/>
<line x1="490.20" y1="108.15" x2="492.25" y2="108.15" stroke="#000" stroke-width="1.40"/>
<line x1="807.40" y1="108.15" x2="805.35" y2="108.15" stroke="#000" stroke-width="1.40"/>
<line x1="490.20" y1="103.03" x2="492.25" y2="103.03" stroke="#000" stroke-width="1.40"/>
<line x1="807.40" y1="103.03" x2="805.35" y2="103.03" stroke="#000" stroke-width="1.40"/>
<line x1="490.20" y1="98.60" x2="492.25" y2="98.60" stroke="#000" stroke-width="1.40"/>
<line x1="807.40" y1="98.60" x2="805.35" y2="98.60" stroke="#000" stroke-width="1.40"/>
<line x1="490.20" y1="94.70" x2="492.25" y2="94.70" stroke="#000" stroke-width="1.40"/>
<line x1="807.40" y1="94.70" x2="805.35" y2="94.70" stroke="#000" stroke-width="1.40"/>
<line x1="490.20" y1="68.20" x2="492.25" y2="68.20" stroke="#000" stroke-width="1.40"/>
<line x1="807.40" y1="68.20" x2="805.35" y2="68.20" stroke="#000" stroke-width="1.40"/>
<line x1="490.20" y1="54.75" x2="492.25" y2="54.75" stroke="#000" stroke-width="1.40"/>
<line x1="807.40" y1="54.75" x2="805.35" y2="54.75" stroke="#000" stroke-width="1.40"/>
<line x1="490.20" y1="45.20" x2="492.25" y2="45.20" stroke="#000" stroke-width="1.40"/>
<line x1="807.40" y1="45.20" x2="805.35" y2="45.20" stroke="#000" stroke-width="1.40"/>
<line x1="490.20" y1="37.80" x2="492.25" y2="37.80" stroke="#000" stroke-width="1.40"/>
<line x1="807.40" y1="37.80" x2="805.35" y2="37.80" stroke="#000" stroke-width="1.40"/>
<line x1="490.20" y1="31.75" x2="492.25" y2="31.75" stroke="#000" stroke-width="1.40"/>
<line x1="807.40" y1="31.75" x2="805.35" y2="31.75" stroke="#000" stroke-width="1.40"/>
<line x1="490.20" y1="26.63" x2="492.25" y2="26.63" stroke="#000" stroke-width="1.40"/>
<line x1="807.40" y1="26.63" x2="805.35" y2="26.63" stroke="#000" stroke-width="1.40"/>
<line x1="490.20" y1="22.20" x2="492.25" y2="22.20" stroke="#000" stroke-width="1.40"/>
<line x1="807.40" y1="22.20" x2="805.35" y2="22.20" stroke="#000" stroke-width="1.40"/>
<line x1="490.20" y1="18.30" x2="492.25" y2="18.30" stroke="#000" stroke-width="1.40"/>
<line x1="807.40" y1="18.30" x2="805.35" y2="18.30" stroke="#000" stroke-width="1.40"/>
<line x1="86.40" y1="529.40" x2="90.70" y2="529.40" stroke="#000" stroke-width="1.40"/>
<line x1="403.70" y1="529.40" x2="399.40" y2="529.40" stroke="#000" stroke-width="1.40"/>
<line x1="86.40" y1="435.63" x2="90.70" y2="435.63" stroke="#000" stroke-width="1.40"/>
<line x1="403.70" y1="435.63" x2="399.40" y2="435.63" stroke="#000" stroke-width="1.40"/>
<line x1="86.40" y1="369.10" x2="90.70" y2="369.10" stroke="#000" stroke-width="1.40"/>
<line x1="403.70" y1="369.10" x2="399.40" y2="369.10" stroke="#000" stroke-width="1.40"/>
<line x1="86.40" y1="477.80" x2="88.45" y2="477.80" stroke="#000" stroke-width="1.40"/>
<line x1="403.70" y1="477.80" x2="401.65" y2="477.80" stroke="#000" stroke-width="1.40"/>
<line x1="86.40" y1="399.99" x2="88.45" y2="399.99" stroke="#000" stroke-width="1.40"/>
<line x1="403.70" y1="399.99" x2="401.65" y2="399.99" stroke="#000" stroke-width="1.40"/>
<line x1="86.40" y1="341.87" x2="88.45" y2="341.87" stroke="#000" stroke-width="1.40"/>
<line x1="403.70" y1="341.87" x2="401.65" y2="341.87" stroke="#000" stroke-width="1.40"/>
<line x1="490.20" y1="523.10" x2="494.50" y2="523.10" stroke="#000" stroke-width="1.40"/>
<line x1="807.40" y1="523.10" x2="803.10" y2="523.10" stroke="#000" stroke-width="1.40"/>
<line x1="490.20" y1="430.55" x2="494.50" y2="430.55" stroke="#000" stroke-width="1.40"/>
<line x1="807.40" y1="430.55" x2="803.10" y2="430.55" stroke="#000" stroke-width="1.40"/>
<line x1="490.20" y1="364.88" x2="494.50" y2="364.88" stroke="#000" stroke-width="1.40"/>
<line x1="807.40" y1="364.88" x2="803.10" y2="364.88" stroke="#000" stroke-width="1.40"/>
<line x1="490.20" y1="547.15" x2="492.25" y2="547.15" stroke="#000" stroke-width="1.40"/>
<line x1="807.40" y1="547.15" x2="805.35" y2="547.15" stroke="#000" stroke-width="1.40"/>
<line x1="490.20" y1="501.34" x2="492.25" y2="501.34" stroke="#000" stroke-width="1.40"/>
<line x1="807.40" y1="501.34" x2="805.35" y2="501.34" stroke="#000" stroke-width="1.40"/>
<line x1="490.20" y1="481.48" x2="492.25" y2="481.48" stroke="#000" stroke-width="1.40"/>
<line x1="807.40" y1="481.48" x2="805.35" y2="481.48" stroke="#000" stroke-width="1.40"/>
<line x1="490.20" y1="463.21" x2="492.25" y2="463.21" stroke="#000" stroke-width="1.40"/>
<line x1="807.40" y1="463.21" x2="805.35" y2="463.21" stroke="#000" stroke-width="1.40"/>
<line x1="490.20" y1="446.30" x2="492.25" y2="446.30" stroke="#000" stroke-width="1.40"/>
<line x1="807.40" y1="446.30" x2="805.35" y2="446.30" stroke="#000" stroke-width="1.40"/>
<line x1="490.20" y1="415.81" x2="492.25" y2="415.81" stroke="#000" stroke-width="1.40"/>
<line x1="807.40" y1="415.81" x2="805.35" y2="415.81" stroke="#000" stroke-width="1.40"/>
<line x1="490.20" y1="401.98" x2="492.25" y2="401.98" stroke="#000" stroke-width="1.40"/>
<line x1="807.40" y1="401.98" x2="805.35" y2="401.98" stroke="#000" stroke-width="1.40"/>
<line x1="490.20" y1="388.93" x2="492.25" y2="388.93" stroke="#000" stroke-width="1.40"/>
<line x1="807.40" y1="388.93" x2="805.35" y2="388.93" stroke="#000" stroke-width="1.40"/>
<line x1="490.20" y1="376.59" x2="492.25" y2="376.59" stroke="#000" stroke-width="1.40"/>
<line x1="807.40" y1="376.59" x2="805.35" y2="376.59" stroke="#000" stroke-width="1.40"/>
<line x1="490.20" y1="353.74" x2="492.25" y2="353.74" stroke="#000" stroke-width="1.40"/>
<line x1="807.40" y1="353.74" x2="805.35" y2="353.74" stroke="#000" stroke-width="1.40"/>
<line x1="490.20" y1="343.12" x2="492.25" y2="343.12" stroke="#000" stroke-width="1.40"/>
<line x1="807.40" y1="343.12" x2="805.35" y2="343.12" stroke="#000" stroke-width="1.40"/>
<line x1="490.20" y1="332.98" x2="492.25" y2="332.98" stroke="#000" stroke-width="1.40"/>
<line x1="807.40" y1="332.98" x2="805.35" y2="332.98" stroke="#000" stroke-width="1.40"/>
<line x1="490.20" y1="323.26" x2="492.25" y2="323.26" stroke="#000" stroke-width="1.40"/>
<line x1="807.40" y1="323.26" x2="805.35" y2="323.26" stroke="#000" stroke-width="1.40"/>
<rect x="500.9" y="83.3" width="92.3" height="143.4" fill="#000"/>
<rect x="498.9" y="81.3" width="92.4" height="143.6" fill="#fff" stroke="#000" stroke-width="2.2"/>
<line x1="501.10" y1="95.00" x2="544.90" y2="95.00" stroke="#3a3a3a" stroke-width="2.30"/>
<text x="549.00" y="101.60" font-size="20.00" text-anchor="start" style="font-family:'Liberation Serif',serif;" >233</text>
<line x1="501.10" y1="118.27" x2="544.90" y2="118.27" stroke="#cc3434" stroke-width="2.30"/>
<text x="549.00" y="124.87" font-size="20.00" text-anchor="start" style="font-family:'Liberation Serif',serif;" >377</text>
<line x1="501.10" y1="141.54" x2="544.90" y2="141.54" stroke="#1a5cc0" stroke-width="2.30"/>
<text x="549.00" y="148.14" font-size="20.00" text-anchor="start" style="font-family:'Liberation Serif',serif;" >610</text>
<line x1="501.10" y1="164.81" x2="544.90" y2="164.81" stroke="#378f58" stroke-width="2.30"/>
<text x="549.00" y="171.41" font-size="20.00" text-anchor="start" style="font-family:'Liberation Serif',serif;" >987</text>
<line x1="501.10" y1="188.08" x2="544.90" y2="188.08" stroke="#9670c0" stroke-width="2.30"/>
<text x="549.00" y="194.68" font-size="20.00" text-anchor="start" style="font-family:'Liberation Serif',serif;" >1597</text>
<line x1="501.10" y1="211.35" x2="544.90" y2="211.35" stroke="#bc951e" stroke-width="2.30"/>
<text x="549.00" y="217.95" font-size="20.00" text-anchor="start" style="font-family:'Liberation Serif',serif;" >2584</text>
<text x="569.00" y="71.00" font-size="27.00" text-anchor="middle" style="font-family:'Liberation Serif',serif;font-style:italic" >L</text>
<text x="86.30" y="273.60" font-size="26.00" text-anchor="middle" style="font-family:'Liberation Serif',serif">10<tspan dy="-10.00" font-size="17.50">-6</tspan></text>
<text x="192.00" y="273.60" font-size="26.00" text-anchor="middle" style="font-family:'Liberation Serif',serif">10<tspan dy="-10.00" font-size="17.50">-4</tspan></text>
<text x="297.70" y="273.60" font-size="26.00" text-anchor="middle" style="font-family:'Liberation Serif',serif">10<tspan dy="-10.00" font-size="17.50">-2</tspan></text>
<text x="403.40" y="273.60" font-size="26.00" text-anchor="middle" style="font-family:'Liberation Serif',serif">10<tspan dy="-10.00" font-size="17.50">0</tspan></text>
<text x="86.30" y="589.90" font-size="26.00" text-anchor="middle" style="font-family:'Liberation Serif',serif">10<tspan dy="-10.00" font-size="17.50">-6</tspan></text>
<text x="192.00" y="589.90" font-size="26.00" text-anchor="middle" style="font-family:'Liberation Serif',serif">10<tspan dy="-10.00" font-size="17.50">-4</tspan></text>
<text x="297.70" y="589.90" font-size="26.00" text-anchor="middle" style="font-family:'Liberation Serif',serif">10<tspan dy="-10.00" font-size="17.50">-2</tspan></text>
<text x="403.40" y="589.90" font-size="26.00" text-anchor="middle" style="font-family:'Liberation Serif',serif">10<tspan dy="-10.00" font-size="17.50">0</tspan></text>
<text x="564.70" y="273.60" font-size="26.00" text-anchor="middle" style="font-family:'Liberation Serif',serif">10<tspan dy="-10.00" font-size="17.50">-2</tspan></text>
<text x="651.90" y="273.60" font-size="26.00" text-anchor="middle" style="font-family:'Liberation Serif',serif">10<tspan dy="-10.00" font-size="17.50">0</tspan></text>
<text x="739.10" y="273.60" font-size="26.00" text-anchor="middle" style="font-family:'Liberation Serif',serif">10<tspan dy="-10.00" font-size="17.50">2</tspan></text>
<text x="564.70" y="589.90" font-size="26.00" text-anchor="middle" style="font-family:'Liberation Serif',serif">10<tspan dy="-10.00" font-size="17.50">-2</tspan></text>
<text x="651.90" y="589.90" font-size="26.00" text-anchor="middle" style="font-family:'Liberation Serif',serif">10<tspan dy="-10.00" font-size="17.50">0</tspan></text>
<text x="739.10" y="589.90" font-size="26.00" text-anchor="middle" style="font-family:'Liberation Serif',serif">10<tspan dy="-10.00" font-size="17.50">2</tspan></text>
<text x="80.80" y="46.90" font-size="26.00" text-anchor="end" style="font-family:'Liberation Serif',serif">10<tspan dy="-10.50" font-size="17.00">2</tspan></text>
<text x="80.80" y="123.50" font-size="26.00" text-anchor="end" style="font-family:'Liberation Serif',serif">10<tspan dy="-10.50" font-size="17.00">1</tspan></text>
<text x="80.80" y="200.10" font-size="26.00" text-anchor="end" style="font-family:'Liberation Serif',serif">10<tspan dy="-10.50" font-size="17.00">0</tspan></text>
<text x="484.30" y="24.30" font-size="26.00" text-anchor="end" style="font-family:'Liberation Serif',serif">10<tspan dy="-10.50" font-size="17.00">-1</tspan></text>
<text x="484.30" y="100.70" font-size="26.00" text-anchor="end" style="font-family:'Liberation Serif',serif">10<tspan dy="-10.50" font-size="17.00">-2</tspan></text>
<text x="484.30" y="177.10" font-size="26.00" text-anchor="end" style="font-family:'Liberation Serif',serif">10<tspan dy="-10.50" font-size="17.00">-3</tspan></text>
<text x="484.30" y="253.50" font-size="26.00" text-anchor="end" style="font-family:'Liberation Serif',serif">10<tspan dy="-10.50" font-size="17.00">-4</tspan></text>
<text x="80.60" y="325.20" font-size="26.00" text-anchor="end" style="font-family:'Liberation Serif',serif;" >1</text>
<text x="80.60" y="376.80" font-size="26.00" text-anchor="end" style="font-family:'Liberation Serif',serif;" >0.8</text>
<text x="80.60" y="443.33" font-size="26.00" text-anchor="end" style="font-family:'Liberation Serif',serif;" >0.6</text>
<text x="80.60" y="537.10" font-size="26.00" text-anchor="end" style="font-family:'Liberation Serif',serif;" >0.4</text>
<text x="485.00" y="371.48" font-size="26.00" text-anchor="end" style="font-family:'Liberation Serif',serif;" >2</text>
<text x="485.00" y="437.15" font-size="26.00" text-anchor="end" style="font-family:'Liberation Serif',serif;" >1.5</text>
<text x="485.00" y="529.70" font-size="26.00" text-anchor="end" style="font-family:'Liberation Serif',serif;" >1</text>
<text x="247.30" y="300.80" font-size="30.00" text-anchor="middle" style="font-family:'Liberation Serif',serif;font-style:italic" >&#949;</text>
<text x="247.30" y="633.70" font-size="30.00" text-anchor="middle" style="font-family:'Liberation Serif',serif;font-style:italic" >&#949;</text>
<text x="623.0" y="305.6" font-size="28" style="font-family:'Liberation Serif',serif;font-style:italic">&#949;L<tspan dx="2" dy="-12" font-size="20" letter-spacing="0.8">1/&#957;</tspan></text>
<text x="623.0" y="635.6" font-size="28" style="font-family:'Liberation Serif',serif;font-style:italic">&#949;L<tspan dx="2" dy="-12" font-size="20" letter-spacing="0.8">1/&#957;</tspan></text>
<g transform="translate(0.0,0.0)"><path d="M425.2,129.6 425.6,133.5 425.4,135.7 425.7,136.3 426.3,136.7 427.5,137.0 428.8,136.9 429.6,136.6 430.0,136.2 430.6,134.9 431.8,130.7 432.8,135.8 433.5,138.1 435.2,140.4 436.5,141.5 438.0,142.2 439.4,142.5 440.4,142.4 441.2,142.1 442.3,141.2 443.0,139.8 443.6,133.7 444.0,133.0 444.6,132.7 445.3,132.6 445.9,132.8 447.3,134.1 447.8,135.2 448.6,138.8" fill="none" stroke="#000" stroke-width="2.3" stroke-linecap="round" stroke-linejoin="round"/><circle cx="424.7" cy="135.5" r="1.1"/><circle cx="448.5" cy="138.9" r="1.25"/></g>
<g transform="translate(-424.4,4.3)"><path d="M425.2,129.6 425.6,133.5 425.4,135.7 425.7,136.3 426.3,136.7 427.5,137.0 428.8,136.9 429.6,136.6 430.0,136.2 430.6,134.9 431.8,130.7 432.8,135.8 433.5,138.1 435.2,140.4 436.5,141.5 438.0,142.2 439.4,142.5 440.4,142.4 441.2,142.1 442.3,141.2 443.0,139.8 443.6,133.7 444.0,133.0 444.6,132.7 445.3,132.6 445.9,132.8 447.3,134.1 447.8,135.2 448.6,138.8" fill="none" stroke="#000" stroke-width="2.3" stroke-linecap="round" stroke-linejoin="round"/><circle cx="424.7" cy="135.5" r="1.1"/><circle cx="448.5" cy="138.9" r="1.25"/></g>
<text transform="translate(442.2,130.5) rotate(-90)" font-size="28" style="font-family:'Liberation Serif',serif;font-style:italic">L<tspan dx="0.5" dy="-10.5" font-size="17.5">-1</tspan></text>
<text transform="translate(34.2,433.2) rotate(-90)" font-size="28" style="font-family:'Liberation Serif',serif">IPR</text>
<text transform="translate(450.2,462) rotate(-90)" font-size="28" style="font-family:'Liberation Serif',serif">IPR<tspan font-style="italic">L</tspan><tspan dy="-11" font-size="19" font-style="italic">s/&#957;</tspan></text>
<text x="1.20" y="17.40" font-size="21.5" style="font-family:'Liberation Sans',sans-serif;font-weight:bold">A1</text>
<text x="417.00" y="17.40" font-size="21.5" style="font-family:'Liberation Sans',sans-serif;font-weight:bold">A2</text>
<text x="1.00" y="318.40" font-size="21.5" style="font-family:'Liberation Sans',sans-serif;font-weight:bold">B1</text>
<text x="441.60" y="319.40" font-size="21.5" style="font-family:'Liberation Sans',sans-serif;font-weight:bold">B2</text>
</svg>
</body></html>
